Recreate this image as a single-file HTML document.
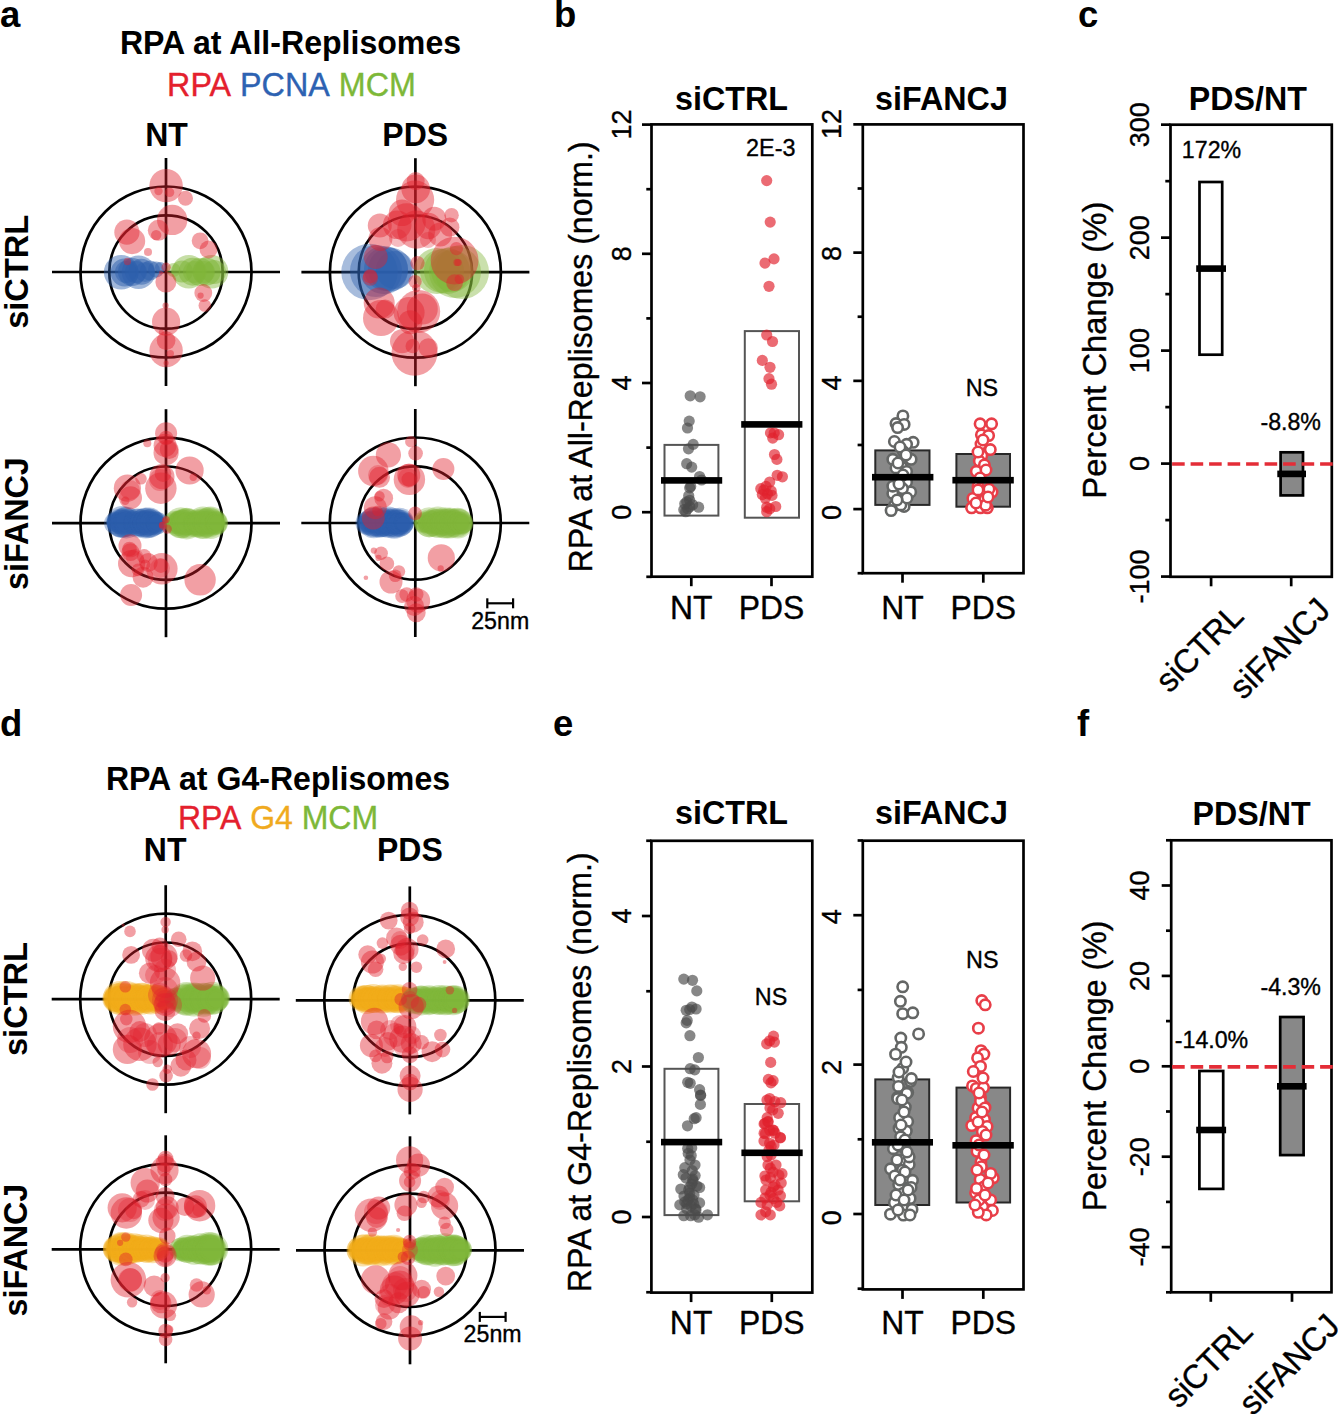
<!DOCTYPE html>
<html><head><meta charset="utf-8"><style>
html,body{margin:0;padding:0;background:#fff;}
svg{display:block;font-family:"Liberation Sans",sans-serif;}
</style></head><body>
<svg width="1338" height="1414" viewBox="0 0 1338 1414">
<rect width="1338" height="1414" fill="#fff"/>
<text transform="translate(0 27) scale(1 1.035)" font-size="36.5" font-weight="bold" text-anchor="start" fill="#000">a</text>
<text transform="translate(554 26.9) scale(1 1.035)" font-size="36.5" font-weight="bold" text-anchor="start" fill="#000">b</text>
<text transform="translate(1078 26.7) scale(1 1.035)" font-size="36.5" font-weight="bold" text-anchor="start" fill="#000">c</text>
<text transform="translate(0 735.5) scale(1 1.035)" font-size="36.5" font-weight="bold" text-anchor="start" fill="#000">d</text>
<text transform="translate(553 735.5) scale(1 1.035)" font-size="36.5" font-weight="bold" text-anchor="start" fill="#000">e</text>
<text transform="translate(1077 735.5) scale(1 1.035)" font-size="36.5" font-weight="bold" text-anchor="start" fill="#000">f</text>
<text transform="translate(290.5 53.8) scale(1 1.035)" font-size="32.1" font-weight="bold" text-anchor="middle" fill="#000">RPA at All-Replisomes</text>
<text transform="translate(291.5 95.6) scale(1 1.035)" font-size="32.3" text-anchor="middle" stroke-width="0.35"><tspan fill="rgb(228,32,45)" stroke="rgb(228,32,45)">RPA</tspan> <tspan fill="rgb(45,98,178)" stroke="rgb(45,98,178)">PCNA</tspan> <tspan fill="rgb(125,184,56)" stroke="rgb(125,184,56)">MCM</tspan></text>
<text transform="translate(166.5 146.4) scale(1 1.035)" font-size="32" font-weight="bold" text-anchor="middle" fill="#000">NT</text>
<text transform="translate(415.2 146.4) scale(1 1.035)" font-size="32" font-weight="bold" text-anchor="middle" fill="#000">PDS</text>
<text transform="translate(27.7 271.8) rotate(-90) scale(1 1.035)" font-size="32.6" font-weight="bold" text-anchor="middle" fill="#000">siCTRL</text>
<text transform="translate(27.7 523.6) rotate(-90) scale(1 1.035)" font-size="32.3" font-weight="bold" text-anchor="middle" fill="#000">siFANCJ</text>
<text transform="translate(278 789.7) scale(1 1.035)" font-size="32.1" font-weight="bold" text-anchor="middle" fill="#000">RPA at G4-Replisomes</text>
<text transform="translate(278 829.4) scale(1 1.035)" font-size="32.0" text-anchor="middle" stroke-width="0.35"><tspan fill="rgb(228,32,45)" stroke="rgb(228,32,45)">RPA</tspan> <tspan fill="rgb(240,170,30)" stroke="rgb(240,170,30)">G4</tspan> <tspan fill="rgb(125,184,56)" stroke="rgb(125,184,56)">MCM</tspan></text>
<text transform="translate(165.1 860.7) scale(1 1.035)" font-size="32" font-weight="bold" text-anchor="middle" fill="#000">NT</text>
<text transform="translate(409.9 860.7) scale(1 1.035)" font-size="32" font-weight="bold" text-anchor="middle" fill="#000">PDS</text>
<text transform="translate(27.0 999.0) rotate(-90) scale(1 1.035)" font-size="32.6" font-weight="bold" text-anchor="middle" fill="#000">siCTRL</text>
<text transform="translate(27.0 1250.1) rotate(-90) scale(1 1.035)" font-size="32.3" font-weight="bold" text-anchor="middle" fill="#000">siFANCJ</text>
<line x1="166" y1="158" x2="166" y2="386" stroke="#000" stroke-width="2.7"/>
<line x1="52" y1="272" x2="280" y2="272" stroke="#000" stroke-width="2.7"/>
<circle cx="166" cy="272" r="85.5" fill="none" stroke="#000" stroke-width="2.7"/>
<circle cx="166" cy="272" r="56.7" fill="none" stroke="#000" stroke-width="2.7"/>
<line x1="415.4" y1="158.2" x2="415.4" y2="386.2" stroke="#000" stroke-width="2.7"/>
<line x1="301.4" y1="272.2" x2="529.4" y2="272.2" stroke="#000" stroke-width="2.7"/>
<circle cx="415.4" cy="272.2" r="85.5" fill="none" stroke="#000" stroke-width="2.7"/>
<circle cx="415.4" cy="272.2" r="56.7" fill="none" stroke="#000" stroke-width="2.7"/>
<line x1="166" y1="409.20000000000005" x2="166" y2="637.2" stroke="#000" stroke-width="2.7"/>
<line x1="52" y1="523.2" x2="280" y2="523.2" stroke="#000" stroke-width="2.7"/>
<circle cx="166" cy="523.2" r="85.5" fill="none" stroke="#000" stroke-width="2.7"/>
<circle cx="166" cy="523.2" r="56.7" fill="none" stroke="#000" stroke-width="2.7"/>
<line x1="415.3" y1="409" x2="415.3" y2="637" stroke="#000" stroke-width="2.7"/>
<line x1="301.3" y1="523" x2="529.3" y2="523" stroke="#000" stroke-width="2.7"/>
<circle cx="415.3" cy="523" r="85.5" fill="none" stroke="#000" stroke-width="2.7"/>
<circle cx="415.3" cy="523" r="56.7" fill="none" stroke="#000" stroke-width="2.7"/>
<line x1="165.7" y1="885.2" x2="165.7" y2="1113.2" stroke="#000" stroke-width="2.7"/>
<line x1="51.69999999999999" y1="999.2" x2="279.7" y2="999.2" stroke="#000" stroke-width="2.7"/>
<circle cx="165.7" cy="999.2" r="85.5" fill="none" stroke="#000" stroke-width="2.7"/>
<circle cx="165.7" cy="999.2" r="56.7" fill="none" stroke="#000" stroke-width="2.7"/>
<line x1="409.8" y1="886.4" x2="409.8" y2="1114.4" stroke="#000" stroke-width="2.7"/>
<line x1="295.8" y1="1000.4" x2="523.8" y2="1000.4" stroke="#000" stroke-width="2.7"/>
<circle cx="409.8" cy="1000.4" r="85.5" fill="none" stroke="#000" stroke-width="2.7"/>
<circle cx="409.8" cy="1000.4" r="56.7" fill="none" stroke="#000" stroke-width="2.7"/>
<line x1="165.7" y1="1135.3" x2="165.7" y2="1363.3" stroke="#000" stroke-width="2.7"/>
<line x1="51.69999999999999" y1="1249.3" x2="279.7" y2="1249.3" stroke="#000" stroke-width="2.7"/>
<circle cx="165.7" cy="1249.3" r="85.5" fill="none" stroke="#000" stroke-width="2.7"/>
<circle cx="165.7" cy="1249.3" r="56.7" fill="none" stroke="#000" stroke-width="2.7"/>
<line x1="410" y1="1136.3" x2="410" y2="1364.3" stroke="#000" stroke-width="2.7"/>
<line x1="296" y1="1250.3" x2="524" y2="1250.3" stroke="#000" stroke-width="2.7"/>
<circle cx="410" cy="1250.3" r="85.5" fill="none" stroke="#000" stroke-width="2.7"/>
<circle cx="410" cy="1250.3" r="56.7" fill="none" stroke="#000" stroke-width="2.7"/>
<circle cx="121.2" cy="272.2" r="17.3" fill="rgb(45, 95, 172)" fill-opacity="0.45"/>
<circle cx="138.5" cy="272.2" r="16.8" fill="rgb(45, 95, 172)" fill-opacity="0.45"/>
<circle cx="124.7" cy="272.5" r="14.0" fill="rgb(45, 95, 172)" fill-opacity="0.5"/>
<circle cx="132.0" cy="272.0" r="14.0" fill="rgb(45, 95, 172)" fill-opacity="0.5"/>
<circle cx="141.4" cy="271.7" r="13.0" fill="rgb(45, 95, 172)" fill-opacity="0.5"/>
<circle cx="150.0" cy="270.5" r="10.0" fill="rgb(45, 95, 172)" fill-opacity="0.5"/>
<circle cx="156.0" cy="269.5" r="8.0" fill="rgb(45, 95, 172)" fill-opacity="0.5"/>
<circle cx="160.5" cy="267.5" r="5.5" fill="rgb(45, 95, 172)" fill-opacity="0.5"/>
<circle cx="126.0" cy="272.0" r="11.0" fill="rgb(45, 95, 172)" fill-opacity="0.45"/>
<circle cx="136.0" cy="272.0" r="11.0" fill="rgb(45, 95, 172)" fill-opacity="0.45"/>
<circle cx="145.0" cy="272.0" r="10.0" fill="rgb(45, 95, 172)" fill-opacity="0.45"/>
<circle cx="173.5" cy="270.0" r="7.0" fill="rgb(128, 182, 58)" fill-opacity="0.45"/>
<circle cx="188.8" cy="271.7" r="16.8" fill="rgb(128, 182, 58)" fill-opacity="0.45"/>
<circle cx="211.5" cy="271.7" r="16.8" fill="rgb(128, 182, 58)" fill-opacity="0.45"/>
<circle cx="182.0" cy="271.5" r="11.0" fill="rgb(128, 182, 58)" fill-opacity="0.5"/>
<circle cx="192.7" cy="271.7" r="14.0" fill="rgb(128, 182, 58)" fill-opacity="0.5"/>
<circle cx="200.0" cy="272.0" r="14.0" fill="rgb(128, 182, 58)" fill-opacity="0.5"/>
<circle cx="206.5" cy="271.7" r="14.0" fill="rgb(128, 182, 58)" fill-opacity="0.5"/>
<circle cx="214.0" cy="272.0" r="12.0" fill="rgb(128, 182, 58)" fill-opacity="0.5"/>
<circle cx="194.0" cy="272.0" r="11.0" fill="rgb(128, 182, 58)" fill-opacity="0.45"/>
<circle cx="204.0" cy="272.0" r="11.0" fill="rgb(128, 182, 58)" fill-opacity="0.45"/>
<circle cx="369.5" cy="272.0" r="28.2" fill="rgb(45, 95, 172)" fill-opacity="0.42"/>
<circle cx="376.0" cy="271.0" r="26.0" fill="rgb(45, 95, 172)" fill-opacity="0.42"/>
<circle cx="384.0" cy="270.0" r="24.0" fill="rgb(45, 95, 172)" fill-opacity="0.45"/>
<circle cx="390.0" cy="269.5" r="22.0" fill="rgb(45, 95, 172)" fill-opacity="0.45"/>
<circle cx="386.0" cy="269.0" r="22.0" fill="rgb(45, 95, 172)" fill-opacity="0.45"/>
<circle cx="395.0" cy="270.0" r="19.0" fill="rgb(45, 95, 172)" fill-opacity="0.45"/>
<circle cx="462.0" cy="272.0" r="27.0" fill="rgb(128, 182, 58)" fill-opacity="0.42"/>
<circle cx="455.0" cy="272.0" r="26.0" fill="rgb(128, 182, 58)" fill-opacity="0.42"/>
<circle cx="437.0" cy="271.0" r="23.0" fill="rgb(128, 182, 58)" fill-opacity="0.45"/>
<circle cx="447.0" cy="271.0" r="23.0" fill="rgb(128, 182, 58)" fill-opacity="0.45"/>
<circle cx="442.0" cy="271.0" r="22.0" fill="rgb(128, 182, 58)" fill-opacity="0.45"/>
<circle cx="452.0" cy="271.0" r="21.0" fill="rgb(128, 182, 58)" fill-opacity="0.45"/>
<circle cx="115.1" cy="523.3" r="11.0" fill="rgb(45, 95, 172)" fill-opacity="0.36"/>
<circle cx="116.6" cy="522.3" r="10.2" fill="rgb(45, 95, 172)" fill-opacity="0.36"/>
<circle cx="116.0" cy="522.6" r="9.5" fill="rgb(45, 95, 172)" fill-opacity="0.36"/>
<circle cx="116.4" cy="523.2" r="8.7" fill="rgb(45, 95, 172)" fill-opacity="0.36"/>
<circle cx="115.0" cy="521.9" r="7.9" fill="rgb(45, 95, 172)" fill-opacity="0.36"/>
<circle cx="116.8" cy="522.6" r="7.1" fill="rgb(45, 95, 172)" fill-opacity="0.36"/>
<circle cx="122.1" cy="521.9" r="15.8" fill="rgb(45, 95, 172)" fill-opacity="0.36"/>
<circle cx="121.4" cy="523.1" r="14.7" fill="rgb(45, 95, 172)" fill-opacity="0.36"/>
<circle cx="120.8" cy="523.4" r="13.6" fill="rgb(45, 95, 172)" fill-opacity="0.36"/>
<circle cx="122.5" cy="521.9" r="12.5" fill="rgb(45, 95, 172)" fill-opacity="0.36"/>
<circle cx="120.4" cy="522.8" r="11.4" fill="rgb(45, 95, 172)" fill-opacity="0.36"/>
<circle cx="122.6" cy="522.5" r="10.3" fill="rgb(45, 95, 172)" fill-opacity="0.36"/>
<circle cx="126.3" cy="522.6" r="15.8" fill="rgb(45, 95, 172)" fill-opacity="0.36"/>
<circle cx="125.9" cy="522.3" r="14.7" fill="rgb(45, 95, 172)" fill-opacity="0.36"/>
<circle cx="126.9" cy="522.7" r="13.6" fill="rgb(45, 95, 172)" fill-opacity="0.36"/>
<circle cx="126.4" cy="522.3" r="12.5" fill="rgb(45, 95, 172)" fill-opacity="0.36"/>
<circle cx="126.3" cy="522.6" r="11.4" fill="rgb(45, 95, 172)" fill-opacity="0.36"/>
<circle cx="126.5" cy="521.9" r="10.3" fill="rgb(45, 95, 172)" fill-opacity="0.36"/>
<circle cx="137.8" cy="523.1" r="14.5" fill="rgb(45, 95, 172)" fill-opacity="0.36"/>
<circle cx="137.3" cy="522.5" r="13.5" fill="rgb(45, 95, 172)" fill-opacity="0.36"/>
<circle cx="138.2" cy="523.6" r="12.5" fill="rgb(45, 95, 172)" fill-opacity="0.36"/>
<circle cx="136.1" cy="522.7" r="11.5" fill="rgb(45, 95, 172)" fill-opacity="0.36"/>
<circle cx="137.5" cy="523.3" r="10.4" fill="rgb(45, 95, 172)" fill-opacity="0.36"/>
<circle cx="138.0" cy="522.9" r="9.4" fill="rgb(45, 95, 172)" fill-opacity="0.36"/>
<circle cx="145.8" cy="523.0" r="15.5" fill="rgb(45, 95, 172)" fill-opacity="0.36"/>
<circle cx="144.5" cy="522.8" r="14.4" fill="rgb(45, 95, 172)" fill-opacity="0.36"/>
<circle cx="145.9" cy="523.3" r="13.3" fill="rgb(45, 95, 172)" fill-opacity="0.36"/>
<circle cx="145.0" cy="522.8" r="12.2" fill="rgb(45, 95, 172)" fill-opacity="0.36"/>
<circle cx="143.9" cy="522.3" r="11.2" fill="rgb(45, 95, 172)" fill-opacity="0.36"/>
<circle cx="145.7" cy="522.6" r="10.1" fill="rgb(45, 95, 172)" fill-opacity="0.36"/>
<circle cx="149.2" cy="522.8" r="15.2" fill="rgb(45, 95, 172)" fill-opacity="0.36"/>
<circle cx="150.5" cy="523.0" r="14.1" fill="rgb(45, 95, 172)" fill-opacity="0.36"/>
<circle cx="149.7" cy="522.6" r="13.1" fill="rgb(45, 95, 172)" fill-opacity="0.36"/>
<circle cx="150.0" cy="523.1" r="12.0" fill="rgb(45, 95, 172)" fill-opacity="0.36"/>
<circle cx="150.1" cy="522.5" r="10.9" fill="rgb(45, 95, 172)" fill-opacity="0.36"/>
<circle cx="150.0" cy="521.9" r="9.9" fill="rgb(45, 95, 172)" fill-opacity="0.36"/>
<circle cx="154.9" cy="523.3" r="12.0" fill="rgb(45, 95, 172)" fill-opacity="0.36"/>
<circle cx="157.2" cy="523.1" r="11.2" fill="rgb(45, 95, 172)" fill-opacity="0.36"/>
<circle cx="155.7" cy="522.5" r="10.3" fill="rgb(45, 95, 172)" fill-opacity="0.36"/>
<circle cx="156.0" cy="523.8" r="9.5" fill="rgb(45, 95, 172)" fill-opacity="0.36"/>
<circle cx="156.6" cy="523.1" r="8.6" fill="rgb(45, 95, 172)" fill-opacity="0.36"/>
<circle cx="156.9" cy="522.6" r="7.8" fill="rgb(45, 95, 172)" fill-opacity="0.36"/>
<circle cx="177.1" cy="523.7" r="12.5" fill="rgb(128, 182, 58)" fill-opacity="0.36"/>
<circle cx="174.9" cy="522.3" r="11.6" fill="rgb(128, 182, 58)" fill-opacity="0.36"/>
<circle cx="176.8" cy="523.4" r="10.8" fill="rgb(128, 182, 58)" fill-opacity="0.36"/>
<circle cx="176.4" cy="522.7" r="9.9" fill="rgb(128, 182, 58)" fill-opacity="0.36"/>
<circle cx="176.3" cy="523.2" r="9.0" fill="rgb(128, 182, 58)" fill-opacity="0.36"/>
<circle cx="176.2" cy="522.5" r="8.1" fill="rgb(128, 182, 58)" fill-opacity="0.36"/>
<circle cx="180.8" cy="522.8" r="15.5" fill="rgb(128, 182, 58)" fill-opacity="0.36"/>
<circle cx="181.5" cy="523.8" r="14.4" fill="rgb(128, 182, 58)" fill-opacity="0.36"/>
<circle cx="182.1" cy="523.1" r="13.3" fill="rgb(128, 182, 58)" fill-opacity="0.36"/>
<circle cx="180.9" cy="522.6" r="12.2" fill="rgb(128, 182, 58)" fill-opacity="0.36"/>
<circle cx="179.9" cy="522.2" r="11.2" fill="rgb(128, 182, 58)" fill-opacity="0.36"/>
<circle cx="180.9" cy="522.7" r="10.1" fill="rgb(128, 182, 58)" fill-opacity="0.36"/>
<circle cx="186.7" cy="523.6" r="15.8" fill="rgb(128, 182, 58)" fill-opacity="0.36"/>
<circle cx="187.1" cy="523.1" r="14.7" fill="rgb(128, 182, 58)" fill-opacity="0.36"/>
<circle cx="186.4" cy="522.2" r="13.6" fill="rgb(128, 182, 58)" fill-opacity="0.36"/>
<circle cx="186.6" cy="522.4" r="12.5" fill="rgb(128, 182, 58)" fill-opacity="0.36"/>
<circle cx="187.0" cy="523.8" r="11.4" fill="rgb(128, 182, 58)" fill-opacity="0.36"/>
<circle cx="187.4" cy="522.5" r="10.3" fill="rgb(128, 182, 58)" fill-opacity="0.36"/>
<circle cx="196.9" cy="523.5" r="14.0" fill="rgb(128, 182, 58)" fill-opacity="0.36"/>
<circle cx="196.6" cy="523.7" r="13.0" fill="rgb(128, 182, 58)" fill-opacity="0.36"/>
<circle cx="196.6" cy="523.5" r="12.0" fill="rgb(128, 182, 58)" fill-opacity="0.36"/>
<circle cx="195.6" cy="523.8" r="11.1" fill="rgb(128, 182, 58)" fill-opacity="0.36"/>
<circle cx="197.1" cy="522.5" r="10.1" fill="rgb(128, 182, 58)" fill-opacity="0.36"/>
<circle cx="196.6" cy="523.3" r="9.1" fill="rgb(128, 182, 58)" fill-opacity="0.36"/>
<circle cx="202.9" cy="522.7" r="16.2" fill="rgb(128, 182, 58)" fill-opacity="0.36"/>
<circle cx="203.0" cy="523.4" r="15.1" fill="rgb(128, 182, 58)" fill-opacity="0.36"/>
<circle cx="203.0" cy="523.2" r="13.9" fill="rgb(128, 182, 58)" fill-opacity="0.36"/>
<circle cx="202.6" cy="523.3" r="12.8" fill="rgb(128, 182, 58)" fill-opacity="0.36"/>
<circle cx="204.0" cy="522.6" r="11.7" fill="rgb(128, 182, 58)" fill-opacity="0.36"/>
<circle cx="203.2" cy="523.4" r="10.5" fill="rgb(128, 182, 58)" fill-opacity="0.36"/>
<circle cx="210.5" cy="522.7" r="16.2" fill="rgb(128, 182, 58)" fill-opacity="0.36"/>
<circle cx="209.3" cy="522.4" r="15.1" fill="rgb(128, 182, 58)" fill-opacity="0.36"/>
<circle cx="210.5" cy="522.2" r="13.9" fill="rgb(128, 182, 58)" fill-opacity="0.36"/>
<circle cx="211.0" cy="522.3" r="12.8" fill="rgb(128, 182, 58)" fill-opacity="0.36"/>
<circle cx="211.0" cy="522.4" r="11.7" fill="rgb(128, 182, 58)" fill-opacity="0.36"/>
<circle cx="211.1" cy="523.0" r="10.5" fill="rgb(128, 182, 58)" fill-opacity="0.36"/>
<circle cx="216.0" cy="523.0" r="12.0" fill="rgb(128, 182, 58)" fill-opacity="0.36"/>
<circle cx="216.4" cy="523.1" r="11.2" fill="rgb(128, 182, 58)" fill-opacity="0.36"/>
<circle cx="215.5" cy="522.5" r="10.3" fill="rgb(128, 182, 58)" fill-opacity="0.36"/>
<circle cx="216.0" cy="523.7" r="9.5" fill="rgb(128, 182, 58)" fill-opacity="0.36"/>
<circle cx="216.3" cy="522.3" r="8.6" fill="rgb(128, 182, 58)" fill-opacity="0.36"/>
<circle cx="216.8" cy="523.4" r="7.8" fill="rgb(128, 182, 58)" fill-opacity="0.36"/>
<circle cx="367.4" cy="522.9" r="12.0" fill="rgb(45, 95, 172)" fill-opacity="0.34"/>
<circle cx="367.7" cy="523.0" r="11.2" fill="rgb(45, 95, 172)" fill-opacity="0.34"/>
<circle cx="368.3" cy="522.1" r="10.3" fill="rgb(45, 95, 172)" fill-opacity="0.34"/>
<circle cx="366.8" cy="523.3" r="9.5" fill="rgb(45, 95, 172)" fill-opacity="0.34"/>
<circle cx="367.4" cy="522.4" r="8.6" fill="rgb(45, 95, 172)" fill-opacity="0.34"/>
<circle cx="369.2" cy="522.8" r="7.8" fill="rgb(45, 95, 172)" fill-opacity="0.34"/>
<circle cx="373.8" cy="522.8" r="15.5" fill="rgb(45, 95, 172)" fill-opacity="0.34"/>
<circle cx="373.3" cy="522.2" r="14.4" fill="rgb(45, 95, 172)" fill-opacity="0.34"/>
<circle cx="373.3" cy="523.4" r="13.3" fill="rgb(45, 95, 172)" fill-opacity="0.34"/>
<circle cx="373.1" cy="523.2" r="12.2" fill="rgb(45, 95, 172)" fill-opacity="0.34"/>
<circle cx="373.4" cy="522.1" r="11.2" fill="rgb(45, 95, 172)" fill-opacity="0.34"/>
<circle cx="373.6" cy="522.9" r="10.1" fill="rgb(45, 95, 172)" fill-opacity="0.34"/>
<circle cx="379.5" cy="522.0" r="15.6" fill="rgb(45, 95, 172)" fill-opacity="0.34"/>
<circle cx="380.9" cy="522.8" r="14.5" fill="rgb(45, 95, 172)" fill-opacity="0.34"/>
<circle cx="380.5" cy="523.4" r="13.4" fill="rgb(45, 95, 172)" fill-opacity="0.34"/>
<circle cx="380.5" cy="523.5" r="12.3" fill="rgb(45, 95, 172)" fill-opacity="0.34"/>
<circle cx="379.7" cy="523.3" r="11.2" fill="rgb(45, 95, 172)" fill-opacity="0.34"/>
<circle cx="379.9" cy="523.5" r="10.1" fill="rgb(45, 95, 172)" fill-opacity="0.34"/>
<circle cx="387.9" cy="522.2" r="15.6" fill="rgb(45, 95, 172)" fill-opacity="0.34"/>
<circle cx="386.1" cy="522.3" r="14.5" fill="rgb(45, 95, 172)" fill-opacity="0.34"/>
<circle cx="388.1" cy="522.7" r="13.4" fill="rgb(45, 95, 172)" fill-opacity="0.34"/>
<circle cx="387.3" cy="522.5" r="12.3" fill="rgb(45, 95, 172)" fill-opacity="0.34"/>
<circle cx="387.0" cy="522.6" r="11.2" fill="rgb(45, 95, 172)" fill-opacity="0.34"/>
<circle cx="386.6" cy="522.9" r="10.1" fill="rgb(45, 95, 172)" fill-opacity="0.34"/>
<circle cx="394.2" cy="523.4" r="15.4" fill="rgb(45, 95, 172)" fill-opacity="0.34"/>
<circle cx="394.4" cy="523.5" r="14.3" fill="rgb(45, 95, 172)" fill-opacity="0.34"/>
<circle cx="394.9" cy="523.6" r="13.2" fill="rgb(45, 95, 172)" fill-opacity="0.34"/>
<circle cx="394.4" cy="522.3" r="12.2" fill="rgb(45, 95, 172)" fill-opacity="0.34"/>
<circle cx="394.9" cy="523.5" r="11.1" fill="rgb(45, 95, 172)" fill-opacity="0.34"/>
<circle cx="395.0" cy="522.9" r="10.0" fill="rgb(45, 95, 172)" fill-opacity="0.34"/>
<circle cx="399.5" cy="522.3" r="14.5" fill="rgb(45, 95, 172)" fill-opacity="0.34"/>
<circle cx="399.8" cy="522.9" r="13.5" fill="rgb(45, 95, 172)" fill-opacity="0.34"/>
<circle cx="398.5" cy="522.1" r="12.5" fill="rgb(45, 95, 172)" fill-opacity="0.34"/>
<circle cx="399.8" cy="523.6" r="11.5" fill="rgb(45, 95, 172)" fill-opacity="0.34"/>
<circle cx="398.0" cy="523.3" r="10.4" fill="rgb(45, 95, 172)" fill-opacity="0.34"/>
<circle cx="398.8" cy="522.2" r="9.4" fill="rgb(45, 95, 172)" fill-opacity="0.34"/>
<circle cx="402.5" cy="523.4" r="11.0" fill="rgb(45, 95, 172)" fill-opacity="0.34"/>
<circle cx="403.9" cy="522.3" r="10.2" fill="rgb(45, 95, 172)" fill-opacity="0.34"/>
<circle cx="403.3" cy="522.3" r="9.5" fill="rgb(45, 95, 172)" fill-opacity="0.34"/>
<circle cx="403.5" cy="522.7" r="8.7" fill="rgb(45, 95, 172)" fill-opacity="0.34"/>
<circle cx="403.9" cy="523.8" r="7.9" fill="rgb(45, 95, 172)" fill-opacity="0.34"/>
<circle cx="403.0" cy="523.8" r="7.1" fill="rgb(45, 95, 172)" fill-opacity="0.34"/>
<circle cx="424.4" cy="522.4" r="11.0" fill="rgb(128, 182, 58)" fill-opacity="0.34"/>
<circle cx="424.8" cy="522.4" r="10.2" fill="rgb(128, 182, 58)" fill-opacity="0.34"/>
<circle cx="424.0" cy="522.8" r="9.5" fill="rgb(128, 182, 58)" fill-opacity="0.34"/>
<circle cx="426.0" cy="523.5" r="8.7" fill="rgb(128, 182, 58)" fill-opacity="0.34"/>
<circle cx="425.6" cy="522.6" r="7.9" fill="rgb(128, 182, 58)" fill-opacity="0.34"/>
<circle cx="425.1" cy="522.6" r="7.1" fill="rgb(128, 182, 58)" fill-opacity="0.34"/>
<circle cx="429.2" cy="522.2" r="15.0" fill="rgb(128, 182, 58)" fill-opacity="0.34"/>
<circle cx="429.3" cy="523.5" r="13.9" fill="rgb(128, 182, 58)" fill-opacity="0.34"/>
<circle cx="430.8" cy="523.3" r="12.9" fill="rgb(128, 182, 58)" fill-opacity="0.34"/>
<circle cx="430.7" cy="522.3" r="11.9" fill="rgb(128, 182, 58)" fill-opacity="0.34"/>
<circle cx="429.5" cy="523.0" r="10.8" fill="rgb(128, 182, 58)" fill-opacity="0.34"/>
<circle cx="430.6" cy="523.4" r="9.7" fill="rgb(128, 182, 58)" fill-opacity="0.34"/>
<circle cx="437.9" cy="522.1" r="15.6" fill="rgb(128, 182, 58)" fill-opacity="0.34"/>
<circle cx="437.3" cy="523.1" r="14.5" fill="rgb(128, 182, 58)" fill-opacity="0.34"/>
<circle cx="437.0" cy="522.3" r="13.4" fill="rgb(128, 182, 58)" fill-opacity="0.34"/>
<circle cx="436.9" cy="522.1" r="12.3" fill="rgb(128, 182, 58)" fill-opacity="0.34"/>
<circle cx="438.0" cy="523.4" r="11.2" fill="rgb(128, 182, 58)" fill-opacity="0.34"/>
<circle cx="437.1" cy="522.5" r="10.1" fill="rgb(128, 182, 58)" fill-opacity="0.34"/>
<circle cx="445.0" cy="522.9" r="15.6" fill="rgb(128, 182, 58)" fill-opacity="0.34"/>
<circle cx="444.9" cy="523.4" r="14.5" fill="rgb(128, 182, 58)" fill-opacity="0.34"/>
<circle cx="444.0" cy="522.7" r="13.4" fill="rgb(128, 182, 58)" fill-opacity="0.34"/>
<circle cx="444.2" cy="522.7" r="12.3" fill="rgb(128, 182, 58)" fill-opacity="0.34"/>
<circle cx="443.2" cy="522.5" r="11.2" fill="rgb(128, 182, 58)" fill-opacity="0.34"/>
<circle cx="444.8" cy="522.1" r="10.1" fill="rgb(128, 182, 58)" fill-opacity="0.34"/>
<circle cx="449.9" cy="523.0" r="15.6" fill="rgb(128, 182, 58)" fill-opacity="0.34"/>
<circle cx="450.5" cy="522.9" r="14.5" fill="rgb(128, 182, 58)" fill-opacity="0.34"/>
<circle cx="450.9" cy="522.5" r="13.4" fill="rgb(128, 182, 58)" fill-opacity="0.34"/>
<circle cx="452.2" cy="522.3" r="12.3" fill="rgb(128, 182, 58)" fill-opacity="0.34"/>
<circle cx="450.8" cy="522.3" r="11.2" fill="rgb(128, 182, 58)" fill-opacity="0.34"/>
<circle cx="451.3" cy="522.4" r="10.1" fill="rgb(128, 182, 58)" fill-opacity="0.34"/>
<circle cx="457.7" cy="523.2" r="15.4" fill="rgb(128, 182, 58)" fill-opacity="0.34"/>
<circle cx="457.6" cy="522.9" r="14.3" fill="rgb(128, 182, 58)" fill-opacity="0.34"/>
<circle cx="459.0" cy="522.2" r="13.2" fill="rgb(128, 182, 58)" fill-opacity="0.34"/>
<circle cx="456.9" cy="522.4" r="12.2" fill="rgb(128, 182, 58)" fill-opacity="0.34"/>
<circle cx="458.6" cy="523.0" r="11.1" fill="rgb(128, 182, 58)" fill-opacity="0.34"/>
<circle cx="457.4" cy="522.5" r="10.0" fill="rgb(128, 182, 58)" fill-opacity="0.34"/>
<circle cx="461.2" cy="522.9" r="11.5" fill="rgb(128, 182, 58)" fill-opacity="0.34"/>
<circle cx="460.9" cy="523.3" r="10.7" fill="rgb(128, 182, 58)" fill-opacity="0.34"/>
<circle cx="463.0" cy="523.7" r="9.9" fill="rgb(128, 182, 58)" fill-opacity="0.34"/>
<circle cx="462.6" cy="523.7" r="9.1" fill="rgb(128, 182, 58)" fill-opacity="0.34"/>
<circle cx="460.8" cy="522.7" r="8.3" fill="rgb(128, 182, 58)" fill-opacity="0.34"/>
<circle cx="463.1" cy="523.4" r="7.5" fill="rgb(128, 182, 58)" fill-opacity="0.34"/>
<circle cx="115.3" cy="998.9" r="13.0" fill="rgb(240, 172, 25)" fill-opacity="0.36"/>
<circle cx="115.7" cy="999.2" r="12.1" fill="rgb(240, 172, 25)" fill-opacity="0.36"/>
<circle cx="115.6" cy="999.2" r="11.2" fill="rgb(240, 172, 25)" fill-opacity="0.36"/>
<circle cx="113.9" cy="998.4" r="10.3" fill="rgb(240, 172, 25)" fill-opacity="0.36"/>
<circle cx="116.1" cy="998.7" r="9.4" fill="rgb(240, 172, 25)" fill-opacity="0.36"/>
<circle cx="116.0" cy="997.9" r="8.4" fill="rgb(240, 172, 25)" fill-opacity="0.36"/>
<circle cx="119.9" cy="998.1" r="17.0" fill="rgb(240, 172, 25)" fill-opacity="0.36"/>
<circle cx="120.1" cy="998.6" r="15.8" fill="rgb(240, 172, 25)" fill-opacity="0.36"/>
<circle cx="118.8" cy="998.0" r="14.6" fill="rgb(240, 172, 25)" fill-opacity="0.36"/>
<circle cx="119.5" cy="999.2" r="13.4" fill="rgb(240, 172, 25)" fill-opacity="0.36"/>
<circle cx="120.6" cy="998.0" r="12.2" fill="rgb(240, 172, 25)" fill-opacity="0.36"/>
<circle cx="120.7" cy="997.9" r="11.0" fill="rgb(240, 172, 25)" fill-opacity="0.36"/>
<circle cx="126.3" cy="997.9" r="17.0" fill="rgb(240, 172, 25)" fill-opacity="0.36"/>
<circle cx="124.8" cy="999.1" r="15.8" fill="rgb(240, 172, 25)" fill-opacity="0.36"/>
<circle cx="125.3" cy="998.0" r="14.6" fill="rgb(240, 172, 25)" fill-opacity="0.36"/>
<circle cx="127.2" cy="999.1" r="13.4" fill="rgb(240, 172, 25)" fill-opacity="0.36"/>
<circle cx="125.5" cy="999.2" r="12.2" fill="rgb(240, 172, 25)" fill-opacity="0.36"/>
<circle cx="126.1" cy="998.8" r="11.0" fill="rgb(240, 172, 25)" fill-opacity="0.36"/>
<circle cx="134.3" cy="999.2" r="16.5" fill="rgb(240, 172, 25)" fill-opacity="0.36"/>
<circle cx="135.5" cy="999.2" r="15.3" fill="rgb(240, 172, 25)" fill-opacity="0.36"/>
<circle cx="135.9" cy="998.2" r="14.2" fill="rgb(240, 172, 25)" fill-opacity="0.36"/>
<circle cx="134.7" cy="998.0" r="13.0" fill="rgb(240, 172, 25)" fill-opacity="0.36"/>
<circle cx="134.1" cy="997.8" r="11.9" fill="rgb(240, 172, 25)" fill-opacity="0.36"/>
<circle cx="134.5" cy="998.7" r="10.7" fill="rgb(240, 172, 25)" fill-opacity="0.36"/>
<circle cx="141.8" cy="998.8" r="16.0" fill="rgb(240, 172, 25)" fill-opacity="0.36"/>
<circle cx="142.6" cy="998.2" r="14.9" fill="rgb(240, 172, 25)" fill-opacity="0.36"/>
<circle cx="143.8" cy="998.5" r="13.8" fill="rgb(240, 172, 25)" fill-opacity="0.36"/>
<circle cx="142.6" cy="998.5" r="12.6" fill="rgb(240, 172, 25)" fill-opacity="0.36"/>
<circle cx="143.5" cy="997.8" r="11.5" fill="rgb(240, 172, 25)" fill-opacity="0.36"/>
<circle cx="144.1" cy="997.7" r="10.4" fill="rgb(240, 172, 25)" fill-opacity="0.36"/>
<circle cx="150.6" cy="999.1" r="15.5" fill="rgb(240, 172, 25)" fill-opacity="0.36"/>
<circle cx="148.8" cy="999.0" r="14.4" fill="rgb(240, 172, 25)" fill-opacity="0.36"/>
<circle cx="149.7" cy="998.6" r="13.3" fill="rgb(240, 172, 25)" fill-opacity="0.36"/>
<circle cx="148.8" cy="997.8" r="12.2" fill="rgb(240, 172, 25)" fill-opacity="0.36"/>
<circle cx="149.2" cy="999.2" r="11.2" fill="rgb(240, 172, 25)" fill-opacity="0.36"/>
<circle cx="149.3" cy="998.9" r="10.1" fill="rgb(240, 172, 25)" fill-opacity="0.36"/>
<circle cx="158.0" cy="999.2" r="14.5" fill="rgb(240, 172, 25)" fill-opacity="0.36"/>
<circle cx="156.6" cy="998.3" r="13.5" fill="rgb(240, 172, 25)" fill-opacity="0.36"/>
<circle cx="157.1" cy="998.9" r="12.5" fill="rgb(240, 172, 25)" fill-opacity="0.36"/>
<circle cx="156.1" cy="998.9" r="11.5" fill="rgb(240, 172, 25)" fill-opacity="0.36"/>
<circle cx="157.7" cy="999.1" r="10.4" fill="rgb(240, 172, 25)" fill-opacity="0.36"/>
<circle cx="155.9" cy="999.2" r="9.4" fill="rgb(240, 172, 25)" fill-opacity="0.36"/>
<circle cx="161.0" cy="998.2" r="12.0" fill="rgb(240, 172, 25)" fill-opacity="0.36"/>
<circle cx="162.3" cy="999.2" r="11.2" fill="rgb(240, 172, 25)" fill-opacity="0.36"/>
<circle cx="161.6" cy="999.2" r="10.3" fill="rgb(240, 172, 25)" fill-opacity="0.36"/>
<circle cx="162.1" cy="998.2" r="9.5" fill="rgb(240, 172, 25)" fill-opacity="0.36"/>
<circle cx="161.6" cy="998.0" r="8.6" fill="rgb(240, 172, 25)" fill-opacity="0.36"/>
<circle cx="161.0" cy="997.9" r="7.8" fill="rgb(240, 172, 25)" fill-opacity="0.36"/>
<circle cx="176.7" cy="999.5" r="12.0" fill="rgb(128, 182, 58)" fill-opacity="0.36"/>
<circle cx="176.0" cy="998.6" r="11.2" fill="rgb(128, 182, 58)" fill-opacity="0.36"/>
<circle cx="174.8" cy="999.3" r="10.3" fill="rgb(128, 182, 58)" fill-opacity="0.36"/>
<circle cx="175.9" cy="999.4" r="9.5" fill="rgb(128, 182, 58)" fill-opacity="0.36"/>
<circle cx="175.7" cy="999.4" r="8.6" fill="rgb(128, 182, 58)" fill-opacity="0.36"/>
<circle cx="175.5" cy="999.5" r="7.8" fill="rgb(128, 182, 58)" fill-opacity="0.36"/>
<circle cx="186.6" cy="998.9" r="17.0" fill="rgb(128, 182, 58)" fill-opacity="0.36"/>
<circle cx="186.1" cy="999.3" r="15.8" fill="rgb(128, 182, 58)" fill-opacity="0.36"/>
<circle cx="185.3" cy="999.1" r="14.6" fill="rgb(128, 182, 58)" fill-opacity="0.36"/>
<circle cx="186.7" cy="998.6" r="13.4" fill="rgb(128, 182, 58)" fill-opacity="0.36"/>
<circle cx="186.7" cy="999.3" r="12.2" fill="rgb(128, 182, 58)" fill-opacity="0.36"/>
<circle cx="186.8" cy="998.7" r="11.0" fill="rgb(128, 182, 58)" fill-opacity="0.36"/>
<circle cx="194.0" cy="999.5" r="17.0" fill="rgb(128, 182, 58)" fill-opacity="0.36"/>
<circle cx="195.7" cy="998.9" r="15.8" fill="rgb(128, 182, 58)" fill-opacity="0.36"/>
<circle cx="194.0" cy="998.5" r="14.6" fill="rgb(128, 182, 58)" fill-opacity="0.36"/>
<circle cx="195.3" cy="998.7" r="13.4" fill="rgb(128, 182, 58)" fill-opacity="0.36"/>
<circle cx="196.1" cy="999.1" r="12.2" fill="rgb(128, 182, 58)" fill-opacity="0.36"/>
<circle cx="194.3" cy="999.2" r="11.0" fill="rgb(128, 182, 58)" fill-opacity="0.36"/>
<circle cx="203.7" cy="999.7" r="17.0" fill="rgb(128, 182, 58)" fill-opacity="0.36"/>
<circle cx="205.0" cy="999.0" r="15.8" fill="rgb(128, 182, 58)" fill-opacity="0.36"/>
<circle cx="204.3" cy="999.3" r="14.6" fill="rgb(128, 182, 58)" fill-opacity="0.36"/>
<circle cx="204.7" cy="999.8" r="13.4" fill="rgb(128, 182, 58)" fill-opacity="0.36"/>
<circle cx="202.9" cy="998.8" r="12.2" fill="rgb(128, 182, 58)" fill-opacity="0.36"/>
<circle cx="204.2" cy="998.7" r="11.0" fill="rgb(128, 182, 58)" fill-opacity="0.36"/>
<circle cx="212.2" cy="998.3" r="16.5" fill="rgb(128, 182, 58)" fill-opacity="0.36"/>
<circle cx="212.9" cy="999.0" r="15.3" fill="rgb(128, 182, 58)" fill-opacity="0.36"/>
<circle cx="211.1" cy="999.3" r="14.2" fill="rgb(128, 182, 58)" fill-opacity="0.36"/>
<circle cx="211.5" cy="998.5" r="13.0" fill="rgb(128, 182, 58)" fill-opacity="0.36"/>
<circle cx="212.0" cy="998.4" r="11.9" fill="rgb(128, 182, 58)" fill-opacity="0.36"/>
<circle cx="211.3" cy="999.6" r="10.7" fill="rgb(128, 182, 58)" fill-opacity="0.36"/>
<circle cx="217.5" cy="998.2" r="12.5" fill="rgb(128, 182, 58)" fill-opacity="0.36"/>
<circle cx="217.7" cy="998.2" r="11.6" fill="rgb(128, 182, 58)" fill-opacity="0.36"/>
<circle cx="216.6" cy="999.6" r="10.8" fill="rgb(128, 182, 58)" fill-opacity="0.36"/>
<circle cx="217.3" cy="998.7" r="9.9" fill="rgb(128, 182, 58)" fill-opacity="0.36"/>
<circle cx="216.7" cy="998.8" r="9.0" fill="rgb(128, 182, 58)" fill-opacity="0.36"/>
<circle cx="216.1" cy="999.8" r="8.1" fill="rgb(128, 182, 58)" fill-opacity="0.36"/>
<circle cx="361.6" cy="998.4" r="13.0" fill="rgb(240, 172, 25)" fill-opacity="0.36"/>
<circle cx="362.4" cy="998.3" r="12.1" fill="rgb(240, 172, 25)" fill-opacity="0.36"/>
<circle cx="362.1" cy="998.8" r="11.2" fill="rgb(240, 172, 25)" fill-opacity="0.36"/>
<circle cx="360.9" cy="999.0" r="10.3" fill="rgb(240, 172, 25)" fill-opacity="0.36"/>
<circle cx="360.9" cy="998.9" r="9.4" fill="rgb(240, 172, 25)" fill-opacity="0.36"/>
<circle cx="361.0" cy="998.3" r="8.4" fill="rgb(240, 172, 25)" fill-opacity="0.36"/>
<circle cx="366.8" cy="999.5" r="14.5" fill="rgb(240, 172, 25)" fill-opacity="0.36"/>
<circle cx="366.1" cy="998.6" r="13.5" fill="rgb(240, 172, 25)" fill-opacity="0.36"/>
<circle cx="367.3" cy="999.7" r="12.5" fill="rgb(240, 172, 25)" fill-opacity="0.36"/>
<circle cx="367.2" cy="998.8" r="11.5" fill="rgb(240, 172, 25)" fill-opacity="0.36"/>
<circle cx="368.1" cy="998.3" r="10.4" fill="rgb(240, 172, 25)" fill-opacity="0.36"/>
<circle cx="367.9" cy="998.7" r="9.4" fill="rgb(240, 172, 25)" fill-opacity="0.36"/>
<circle cx="373.1" cy="998.4" r="14.5" fill="rgb(240, 172, 25)" fill-opacity="0.36"/>
<circle cx="373.5" cy="999.5" r="13.5" fill="rgb(240, 172, 25)" fill-opacity="0.36"/>
<circle cx="373.2" cy="999.1" r="12.5" fill="rgb(240, 172, 25)" fill-opacity="0.36"/>
<circle cx="374.3" cy="998.8" r="11.5" fill="rgb(240, 172, 25)" fill-opacity="0.36"/>
<circle cx="374.1" cy="998.3" r="10.4" fill="rgb(240, 172, 25)" fill-opacity="0.36"/>
<circle cx="372.9" cy="998.5" r="9.4" fill="rgb(240, 172, 25)" fill-opacity="0.36"/>
<circle cx="382.4" cy="998.9" r="14.5" fill="rgb(240, 172, 25)" fill-opacity="0.36"/>
<circle cx="381.6" cy="999.1" r="13.5" fill="rgb(240, 172, 25)" fill-opacity="0.36"/>
<circle cx="381.9" cy="998.7" r="12.5" fill="rgb(240, 172, 25)" fill-opacity="0.36"/>
<circle cx="382.7" cy="999.3" r="11.5" fill="rgb(240, 172, 25)" fill-opacity="0.36"/>
<circle cx="381.4" cy="999.1" r="10.4" fill="rgb(240, 172, 25)" fill-opacity="0.36"/>
<circle cx="382.1" cy="999.6" r="9.4" fill="rgb(240, 172, 25)" fill-opacity="0.36"/>
<circle cx="390.6" cy="998.7" r="14.5" fill="rgb(240, 172, 25)" fill-opacity="0.36"/>
<circle cx="391.2" cy="998.4" r="13.5" fill="rgb(240, 172, 25)" fill-opacity="0.36"/>
<circle cx="389.8" cy="999.4" r="12.5" fill="rgb(240, 172, 25)" fill-opacity="0.36"/>
<circle cx="389.2" cy="999.0" r="11.5" fill="rgb(240, 172, 25)" fill-opacity="0.36"/>
<circle cx="388.9" cy="999.3" r="10.4" fill="rgb(240, 172, 25)" fill-opacity="0.36"/>
<circle cx="390.6" cy="999.1" r="9.4" fill="rgb(240, 172, 25)" fill-opacity="0.36"/>
<circle cx="397.9" cy="998.7" r="14.5" fill="rgb(240, 172, 25)" fill-opacity="0.36"/>
<circle cx="397.5" cy="999.2" r="13.5" fill="rgb(240, 172, 25)" fill-opacity="0.36"/>
<circle cx="397.2" cy="998.9" r="12.5" fill="rgb(240, 172, 25)" fill-opacity="0.36"/>
<circle cx="397.8" cy="999.7" r="11.5" fill="rgb(240, 172, 25)" fill-opacity="0.36"/>
<circle cx="396.9" cy="999.3" r="10.4" fill="rgb(240, 172, 25)" fill-opacity="0.36"/>
<circle cx="395.9" cy="999.3" r="9.4" fill="rgb(240, 172, 25)" fill-opacity="0.36"/>
<circle cx="403.4" cy="999.8" r="13.0" fill="rgb(240, 172, 25)" fill-opacity="0.36"/>
<circle cx="403.8" cy="998.7" r="12.1" fill="rgb(240, 172, 25)" fill-opacity="0.36"/>
<circle cx="402.7" cy="999.3" r="11.2" fill="rgb(240, 172, 25)" fill-opacity="0.36"/>
<circle cx="401.9" cy="998.9" r="10.3" fill="rgb(240, 172, 25)" fill-opacity="0.36"/>
<circle cx="402.2" cy="998.4" r="9.4" fill="rgb(240, 172, 25)" fill-opacity="0.36"/>
<circle cx="401.9" cy="999.4" r="8.4" fill="rgb(240, 172, 25)" fill-opacity="0.36"/>
<circle cx="414.3" cy="1000.7" r="13.5" fill="rgb(128, 182, 58)" fill-opacity="0.36"/>
<circle cx="414.1" cy="1000.3" r="12.6" fill="rgb(128, 182, 58)" fill-opacity="0.36"/>
<circle cx="414.0" cy="999.6" r="11.6" fill="rgb(128, 182, 58)" fill-opacity="0.36"/>
<circle cx="416.2" cy="999.5" r="10.7" fill="rgb(128, 182, 58)" fill-opacity="0.36"/>
<circle cx="415.3" cy="999.9" r="9.7" fill="rgb(128, 182, 58)" fill-opacity="0.36"/>
<circle cx="414.9" cy="1000.0" r="8.8" fill="rgb(128, 182, 58)" fill-opacity="0.36"/>
<circle cx="421.3" cy="1000.5" r="15.0" fill="rgb(128, 182, 58)" fill-opacity="0.36"/>
<circle cx="421.0" cy="999.6" r="13.9" fill="rgb(128, 182, 58)" fill-opacity="0.36"/>
<circle cx="420.8" cy="999.6" r="12.9" fill="rgb(128, 182, 58)" fill-opacity="0.36"/>
<circle cx="421.8" cy="1000.6" r="11.9" fill="rgb(128, 182, 58)" fill-opacity="0.36"/>
<circle cx="421.7" cy="999.4" r="10.8" fill="rgb(128, 182, 58)" fill-opacity="0.36"/>
<circle cx="421.4" cy="1000.8" r="9.7" fill="rgb(128, 182, 58)" fill-opacity="0.36"/>
<circle cx="429.0" cy="1000.2" r="15.0" fill="rgb(128, 182, 58)" fill-opacity="0.36"/>
<circle cx="429.7" cy="1000.3" r="13.9" fill="rgb(128, 182, 58)" fill-opacity="0.36"/>
<circle cx="429.6" cy="1000.3" r="12.9" fill="rgb(128, 182, 58)" fill-opacity="0.36"/>
<circle cx="430.0" cy="1000.2" r="11.9" fill="rgb(128, 182, 58)" fill-opacity="0.36"/>
<circle cx="431.0" cy="1000.1" r="10.8" fill="rgb(128, 182, 58)" fill-opacity="0.36"/>
<circle cx="429.1" cy="999.3" r="9.7" fill="rgb(128, 182, 58)" fill-opacity="0.36"/>
<circle cx="439.1" cy="1000.0" r="15.0" fill="rgb(128, 182, 58)" fill-opacity="0.36"/>
<circle cx="437.3" cy="1000.7" r="13.9" fill="rgb(128, 182, 58)" fill-opacity="0.36"/>
<circle cx="438.2" cy="1000.4" r="12.9" fill="rgb(128, 182, 58)" fill-opacity="0.36"/>
<circle cx="438.9" cy="999.7" r="11.9" fill="rgb(128, 182, 58)" fill-opacity="0.36"/>
<circle cx="437.7" cy="1000.6" r="10.8" fill="rgb(128, 182, 58)" fill-opacity="0.36"/>
<circle cx="437.1" cy="1000.4" r="9.7" fill="rgb(128, 182, 58)" fill-opacity="0.36"/>
<circle cx="445.0" cy="1000.3" r="15.0" fill="rgb(128, 182, 58)" fill-opacity="0.36"/>
<circle cx="446.5" cy="1000.7" r="13.9" fill="rgb(128, 182, 58)" fill-opacity="0.36"/>
<circle cx="446.8" cy="1000.0" r="12.9" fill="rgb(128, 182, 58)" fill-opacity="0.36"/>
<circle cx="445.3" cy="999.4" r="11.9" fill="rgb(128, 182, 58)" fill-opacity="0.36"/>
<circle cx="446.1" cy="1000.0" r="10.8" fill="rgb(128, 182, 58)" fill-opacity="0.36"/>
<circle cx="445.0" cy="1000.6" r="9.7" fill="rgb(128, 182, 58)" fill-opacity="0.36"/>
<circle cx="453.0" cy="1000.3" r="15.0" fill="rgb(128, 182, 58)" fill-opacity="0.36"/>
<circle cx="452.3" cy="999.6" r="13.9" fill="rgb(128, 182, 58)" fill-opacity="0.36"/>
<circle cx="451.8" cy="999.7" r="12.9" fill="rgb(128, 182, 58)" fill-opacity="0.36"/>
<circle cx="452.4" cy="999.9" r="11.9" fill="rgb(128, 182, 58)" fill-opacity="0.36"/>
<circle cx="452.7" cy="1000.5" r="10.8" fill="rgb(128, 182, 58)" fill-opacity="0.36"/>
<circle cx="453.9" cy="999.5" r="9.7" fill="rgb(128, 182, 58)" fill-opacity="0.36"/>
<circle cx="455.8" cy="999.5" r="14.0" fill="rgb(128, 182, 58)" fill-opacity="0.36"/>
<circle cx="456.4" cy="1000.8" r="13.0" fill="rgb(128, 182, 58)" fill-opacity="0.36"/>
<circle cx="455.3" cy="1000.4" r="12.0" fill="rgb(128, 182, 58)" fill-opacity="0.36"/>
<circle cx="455.5" cy="999.2" r="11.1" fill="rgb(128, 182, 58)" fill-opacity="0.36"/>
<circle cx="456.6" cy="999.7" r="10.1" fill="rgb(128, 182, 58)" fill-opacity="0.36"/>
<circle cx="455.2" cy="999.9" r="9.1" fill="rgb(128, 182, 58)" fill-opacity="0.36"/>
<circle cx="115.9" cy="1248.8" r="13.0" fill="rgb(240, 172, 25)" fill-opacity="0.36"/>
<circle cx="115.1" cy="1249.6" r="12.1" fill="rgb(240, 172, 25)" fill-opacity="0.36"/>
<circle cx="114.8" cy="1249.0" r="11.2" fill="rgb(240, 172, 25)" fill-opacity="0.36"/>
<circle cx="117.0" cy="1248.3" r="10.3" fill="rgb(240, 172, 25)" fill-opacity="0.36"/>
<circle cx="116.1" cy="1249.2" r="9.4" fill="rgb(240, 172, 25)" fill-opacity="0.36"/>
<circle cx="114.9" cy="1248.8" r="8.4" fill="rgb(240, 172, 25)" fill-opacity="0.36"/>
<circle cx="121.5" cy="1248.9" r="16.8" fill="rgb(240, 172, 25)" fill-opacity="0.36"/>
<circle cx="121.5" cy="1248.5" r="15.6" fill="rgb(240, 172, 25)" fill-opacity="0.36"/>
<circle cx="120.4" cy="1248.4" r="14.4" fill="rgb(240, 172, 25)" fill-opacity="0.36"/>
<circle cx="121.0" cy="1249.7" r="13.3" fill="rgb(240, 172, 25)" fill-opacity="0.36"/>
<circle cx="121.2" cy="1249.4" r="12.1" fill="rgb(240, 172, 25)" fill-opacity="0.36"/>
<circle cx="120.7" cy="1249.4" r="10.9" fill="rgb(240, 172, 25)" fill-opacity="0.36"/>
<circle cx="126.0" cy="1248.7" r="16.5" fill="rgb(240, 172, 25)" fill-opacity="0.36"/>
<circle cx="127.4" cy="1249.4" r="15.3" fill="rgb(240, 172, 25)" fill-opacity="0.36"/>
<circle cx="126.8" cy="1248.3" r="14.2" fill="rgb(240, 172, 25)" fill-opacity="0.36"/>
<circle cx="126.4" cy="1248.5" r="13.0" fill="rgb(240, 172, 25)" fill-opacity="0.36"/>
<circle cx="126.5" cy="1249.5" r="11.9" fill="rgb(240, 172, 25)" fill-opacity="0.36"/>
<circle cx="126.3" cy="1249.6" r="10.7" fill="rgb(240, 172, 25)" fill-opacity="0.36"/>
<circle cx="133.9" cy="1248.3" r="15.0" fill="rgb(240, 172, 25)" fill-opacity="0.36"/>
<circle cx="132.7" cy="1249.0" r="13.9" fill="rgb(240, 172, 25)" fill-opacity="0.36"/>
<circle cx="131.9" cy="1248.9" r="12.9" fill="rgb(240, 172, 25)" fill-opacity="0.36"/>
<circle cx="134.0" cy="1248.4" r="11.9" fill="rgb(240, 172, 25)" fill-opacity="0.36"/>
<circle cx="133.2" cy="1248.4" r="10.8" fill="rgb(240, 172, 25)" fill-opacity="0.36"/>
<circle cx="133.2" cy="1249.6" r="9.7" fill="rgb(240, 172, 25)" fill-opacity="0.36"/>
<circle cx="139.3" cy="1248.2" r="14.0" fill="rgb(240, 172, 25)" fill-opacity="0.36"/>
<circle cx="139.0" cy="1249.1" r="13.0" fill="rgb(240, 172, 25)" fill-opacity="0.36"/>
<circle cx="138.8" cy="1248.3" r="12.0" fill="rgb(240, 172, 25)" fill-opacity="0.36"/>
<circle cx="140.0" cy="1249.7" r="11.1" fill="rgb(240, 172, 25)" fill-opacity="0.36"/>
<circle cx="139.8" cy="1248.8" r="10.1" fill="rgb(240, 172, 25)" fill-opacity="0.36"/>
<circle cx="140.3" cy="1248.3" r="9.1" fill="rgb(240, 172, 25)" fill-opacity="0.36"/>
<circle cx="146.2" cy="1248.5" r="14.0" fill="rgb(240, 172, 25)" fill-opacity="0.36"/>
<circle cx="146.3" cy="1249.7" r="13.0" fill="rgb(240, 172, 25)" fill-opacity="0.36"/>
<circle cx="144.9" cy="1249.1" r="12.0" fill="rgb(240, 172, 25)" fill-opacity="0.36"/>
<circle cx="146.3" cy="1248.4" r="11.1" fill="rgb(240, 172, 25)" fill-opacity="0.36"/>
<circle cx="145.4" cy="1249.8" r="10.1" fill="rgb(240, 172, 25)" fill-opacity="0.36"/>
<circle cx="147.2" cy="1248.4" r="9.1" fill="rgb(240, 172, 25)" fill-opacity="0.36"/>
<circle cx="152.5" cy="1249.7" r="13.5" fill="rgb(240, 172, 25)" fill-opacity="0.36"/>
<circle cx="151.4" cy="1249.2" r="12.6" fill="rgb(240, 172, 25)" fill-opacity="0.36"/>
<circle cx="150.9" cy="1248.8" r="11.6" fill="rgb(240, 172, 25)" fill-opacity="0.36"/>
<circle cx="152.4" cy="1249.1" r="10.7" fill="rgb(240, 172, 25)" fill-opacity="0.36"/>
<circle cx="152.7" cy="1248.3" r="9.7" fill="rgb(240, 172, 25)" fill-opacity="0.36"/>
<circle cx="151.6" cy="1249.6" r="8.8" fill="rgb(240, 172, 25)" fill-opacity="0.36"/>
<circle cx="158.2" cy="1248.9" r="12.0" fill="rgb(240, 172, 25)" fill-opacity="0.36"/>
<circle cx="157.8" cy="1249.8" r="11.2" fill="rgb(240, 172, 25)" fill-opacity="0.36"/>
<circle cx="158.2" cy="1248.2" r="10.3" fill="rgb(240, 172, 25)" fill-opacity="0.36"/>
<circle cx="158.7" cy="1248.7" r="9.5" fill="rgb(240, 172, 25)" fill-opacity="0.36"/>
<circle cx="157.8" cy="1248.5" r="8.6" fill="rgb(240, 172, 25)" fill-opacity="0.36"/>
<circle cx="157.9" cy="1248.7" r="7.8" fill="rgb(240, 172, 25)" fill-opacity="0.36"/>
<circle cx="181.2" cy="1249.4" r="12.0" fill="rgb(128, 182, 58)" fill-opacity="0.36"/>
<circle cx="181.2" cy="1249.0" r="11.2" fill="rgb(128, 182, 58)" fill-opacity="0.36"/>
<circle cx="181.8" cy="1250.0" r="10.3" fill="rgb(128, 182, 58)" fill-opacity="0.36"/>
<circle cx="181.4" cy="1249.0" r="9.5" fill="rgb(128, 182, 58)" fill-opacity="0.36"/>
<circle cx="181.0" cy="1249.2" r="8.6" fill="rgb(128, 182, 58)" fill-opacity="0.36"/>
<circle cx="180.4" cy="1250.2" r="7.8" fill="rgb(128, 182, 58)" fill-opacity="0.36"/>
<circle cx="187.2" cy="1248.8" r="14.0" fill="rgb(128, 182, 58)" fill-opacity="0.36"/>
<circle cx="186.9" cy="1249.7" r="13.0" fill="rgb(128, 182, 58)" fill-opacity="0.36"/>
<circle cx="185.7" cy="1249.2" r="12.0" fill="rgb(128, 182, 58)" fill-opacity="0.36"/>
<circle cx="186.4" cy="1249.4" r="11.1" fill="rgb(128, 182, 58)" fill-opacity="0.36"/>
<circle cx="186.4" cy="1249.8" r="10.1" fill="rgb(128, 182, 58)" fill-opacity="0.36"/>
<circle cx="185.1" cy="1249.9" r="9.1" fill="rgb(128, 182, 58)" fill-opacity="0.36"/>
<circle cx="194.2" cy="1250.3" r="14.5" fill="rgb(128, 182, 58)" fill-opacity="0.36"/>
<circle cx="193.3" cy="1248.8" r="13.5" fill="rgb(128, 182, 58)" fill-opacity="0.36"/>
<circle cx="191.8" cy="1248.9" r="12.5" fill="rgb(128, 182, 58)" fill-opacity="0.36"/>
<circle cx="194.1" cy="1249.2" r="11.5" fill="rgb(128, 182, 58)" fill-opacity="0.36"/>
<circle cx="192.7" cy="1250.1" r="10.4" fill="rgb(128, 182, 58)" fill-opacity="0.36"/>
<circle cx="192.6" cy="1249.6" r="9.4" fill="rgb(128, 182, 58)" fill-opacity="0.36"/>
<circle cx="200.8" cy="1248.8" r="15.5" fill="rgb(128, 182, 58)" fill-opacity="0.36"/>
<circle cx="201.2" cy="1250.1" r="14.4" fill="rgb(128, 182, 58)" fill-opacity="0.36"/>
<circle cx="200.2" cy="1249.1" r="13.3" fill="rgb(128, 182, 58)" fill-opacity="0.36"/>
<circle cx="200.8" cy="1248.8" r="12.2" fill="rgb(128, 182, 58)" fill-opacity="0.36"/>
<circle cx="201.0" cy="1250.0" r="11.2" fill="rgb(128, 182, 58)" fill-opacity="0.36"/>
<circle cx="201.4" cy="1249.6" r="10.1" fill="rgb(128, 182, 58)" fill-opacity="0.36"/>
<circle cx="208.9" cy="1248.9" r="16.8" fill="rgb(128, 182, 58)" fill-opacity="0.36"/>
<circle cx="208.2" cy="1249.3" r="15.6" fill="rgb(128, 182, 58)" fill-opacity="0.36"/>
<circle cx="208.2" cy="1248.9" r="14.4" fill="rgb(128, 182, 58)" fill-opacity="0.36"/>
<circle cx="208.7" cy="1248.9" r="13.3" fill="rgb(128, 182, 58)" fill-opacity="0.36"/>
<circle cx="207.2" cy="1250.0" r="12.1" fill="rgb(128, 182, 58)" fill-opacity="0.36"/>
<circle cx="209.1" cy="1249.4" r="10.9" fill="rgb(128, 182, 58)" fill-opacity="0.36"/>
<circle cx="211.8" cy="1249.1" r="16.5" fill="rgb(128, 182, 58)" fill-opacity="0.36"/>
<circle cx="211.5" cy="1249.7" r="15.3" fill="rgb(128, 182, 58)" fill-opacity="0.36"/>
<circle cx="211.2" cy="1248.9" r="14.2" fill="rgb(128, 182, 58)" fill-opacity="0.36"/>
<circle cx="211.9" cy="1249.0" r="13.0" fill="rgb(128, 182, 58)" fill-opacity="0.36"/>
<circle cx="212.4" cy="1250.0" r="11.9" fill="rgb(128, 182, 58)" fill-opacity="0.36"/>
<circle cx="212.7" cy="1249.5" r="10.7" fill="rgb(128, 182, 58)" fill-opacity="0.36"/>
<circle cx="358.9" cy="1250.1" r="12.5" fill="rgb(240, 172, 25)" fill-opacity="0.36"/>
<circle cx="360.0" cy="1249.9" r="11.6" fill="rgb(240, 172, 25)" fill-opacity="0.36"/>
<circle cx="359.0" cy="1250.1" r="10.8" fill="rgb(240, 172, 25)" fill-opacity="0.36"/>
<circle cx="358.2" cy="1250.0" r="9.9" fill="rgb(240, 172, 25)" fill-opacity="0.36"/>
<circle cx="359.3" cy="1250.5" r="9.0" fill="rgb(240, 172, 25)" fill-opacity="0.36"/>
<circle cx="358.0" cy="1249.7" r="8.1" fill="rgb(240, 172, 25)" fill-opacity="0.36"/>
<circle cx="363.0" cy="1250.5" r="16.0" fill="rgb(240, 172, 25)" fill-opacity="0.36"/>
<circle cx="364.5" cy="1249.3" r="14.9" fill="rgb(240, 172, 25)" fill-opacity="0.36"/>
<circle cx="365.2" cy="1250.7" r="13.8" fill="rgb(240, 172, 25)" fill-opacity="0.36"/>
<circle cx="364.4" cy="1250.2" r="12.6" fill="rgb(240, 172, 25)" fill-opacity="0.36"/>
<circle cx="363.2" cy="1249.2" r="11.5" fill="rgb(240, 172, 25)" fill-opacity="0.36"/>
<circle cx="364.1" cy="1249.3" r="10.4" fill="rgb(240, 172, 25)" fill-opacity="0.36"/>
<circle cx="371.3" cy="1249.6" r="16.0" fill="rgb(240, 172, 25)" fill-opacity="0.36"/>
<circle cx="370.9" cy="1249.9" r="14.9" fill="rgb(240, 172, 25)" fill-opacity="0.36"/>
<circle cx="371.9" cy="1250.5" r="13.8" fill="rgb(240, 172, 25)" fill-opacity="0.36"/>
<circle cx="372.0" cy="1250.2" r="12.6" fill="rgb(240, 172, 25)" fill-opacity="0.36"/>
<circle cx="372.0" cy="1250.3" r="11.5" fill="rgb(240, 172, 25)" fill-opacity="0.36"/>
<circle cx="371.9" cy="1249.6" r="10.4" fill="rgb(240, 172, 25)" fill-opacity="0.36"/>
<circle cx="381.2" cy="1250.8" r="15.5" fill="rgb(240, 172, 25)" fill-opacity="0.36"/>
<circle cx="380.8" cy="1250.3" r="14.4" fill="rgb(240, 172, 25)" fill-opacity="0.36"/>
<circle cx="379.6" cy="1249.6" r="13.3" fill="rgb(240, 172, 25)" fill-opacity="0.36"/>
<circle cx="379.5" cy="1249.3" r="12.2" fill="rgb(240, 172, 25)" fill-opacity="0.36"/>
<circle cx="380.6" cy="1249.8" r="11.2" fill="rgb(240, 172, 25)" fill-opacity="0.36"/>
<circle cx="380.8" cy="1249.8" r="10.1" fill="rgb(240, 172, 25)" fill-opacity="0.36"/>
<circle cx="389.1" cy="1250.6" r="15.0" fill="rgb(240, 172, 25)" fill-opacity="0.36"/>
<circle cx="386.8" cy="1249.5" r="13.9" fill="rgb(240, 172, 25)" fill-opacity="0.36"/>
<circle cx="389.0" cy="1250.0" r="12.9" fill="rgb(240, 172, 25)" fill-opacity="0.36"/>
<circle cx="389.2" cy="1249.8" r="11.9" fill="rgb(240, 172, 25)" fill-opacity="0.36"/>
<circle cx="387.0" cy="1250.2" r="10.8" fill="rgb(240, 172, 25)" fill-opacity="0.36"/>
<circle cx="388.7" cy="1249.6" r="9.7" fill="rgb(240, 172, 25)" fill-opacity="0.36"/>
<circle cx="394.0" cy="1249.7" r="15.0" fill="rgb(240, 172, 25)" fill-opacity="0.36"/>
<circle cx="396.1" cy="1250.4" r="13.9" fill="rgb(240, 172, 25)" fill-opacity="0.36"/>
<circle cx="394.1" cy="1249.6" r="12.9" fill="rgb(240, 172, 25)" fill-opacity="0.36"/>
<circle cx="394.0" cy="1249.3" r="11.9" fill="rgb(240, 172, 25)" fill-opacity="0.36"/>
<circle cx="395.7" cy="1249.5" r="10.8" fill="rgb(240, 172, 25)" fill-opacity="0.36"/>
<circle cx="395.1" cy="1249.9" r="9.7" fill="rgb(240, 172, 25)" fill-opacity="0.36"/>
<circle cx="400.3" cy="1250.4" r="13.0" fill="rgb(240, 172, 25)" fill-opacity="0.36"/>
<circle cx="400.1" cy="1250.2" r="12.1" fill="rgb(240, 172, 25)" fill-opacity="0.36"/>
<circle cx="400.1" cy="1249.9" r="11.2" fill="rgb(240, 172, 25)" fill-opacity="0.36"/>
<circle cx="400.3" cy="1249.6" r="10.3" fill="rgb(240, 172, 25)" fill-opacity="0.36"/>
<circle cx="402.1" cy="1250.5" r="9.4" fill="rgb(240, 172, 25)" fill-opacity="0.36"/>
<circle cx="400.5" cy="1250.6" r="8.4" fill="rgb(240, 172, 25)" fill-opacity="0.36"/>
<circle cx="404.3" cy="1249.8" r="11.0" fill="rgb(240, 172, 25)" fill-opacity="0.36"/>
<circle cx="405.9" cy="1250.2" r="10.2" fill="rgb(240, 172, 25)" fill-opacity="0.36"/>
<circle cx="404.0" cy="1250.8" r="9.5" fill="rgb(240, 172, 25)" fill-opacity="0.36"/>
<circle cx="404.3" cy="1249.6" r="8.7" fill="rgb(240, 172, 25)" fill-opacity="0.36"/>
<circle cx="405.7" cy="1249.7" r="7.9" fill="rgb(240, 172, 25)" fill-opacity="0.36"/>
<circle cx="404.5" cy="1249.3" r="7.1" fill="rgb(240, 172, 25)" fill-opacity="0.36"/>
<circle cx="420.9" cy="1250.3" r="13.0" fill="rgb(128, 182, 58)" fill-opacity="0.36"/>
<circle cx="421.4" cy="1249.4" r="12.1" fill="rgb(128, 182, 58)" fill-opacity="0.36"/>
<circle cx="419.8" cy="1249.8" r="11.2" fill="rgb(128, 182, 58)" fill-opacity="0.36"/>
<circle cx="420.5" cy="1250.5" r="10.3" fill="rgb(128, 182, 58)" fill-opacity="0.36"/>
<circle cx="421.5" cy="1250.2" r="9.4" fill="rgb(128, 182, 58)" fill-opacity="0.36"/>
<circle cx="421.1" cy="1250.3" r="8.4" fill="rgb(128, 182, 58)" fill-opacity="0.36"/>
<circle cx="427.1" cy="1249.9" r="15.5" fill="rgb(128, 182, 58)" fill-opacity="0.36"/>
<circle cx="427.2" cy="1250.6" r="14.4" fill="rgb(128, 182, 58)" fill-opacity="0.36"/>
<circle cx="426.9" cy="1250.5" r="13.3" fill="rgb(128, 182, 58)" fill-opacity="0.36"/>
<circle cx="427.0" cy="1250.3" r="12.2" fill="rgb(128, 182, 58)" fill-opacity="0.36"/>
<circle cx="427.6" cy="1249.8" r="11.2" fill="rgb(128, 182, 58)" fill-opacity="0.36"/>
<circle cx="428.8" cy="1249.2" r="10.1" fill="rgb(128, 182, 58)" fill-opacity="0.36"/>
<circle cx="434.9" cy="1250.7" r="16.0" fill="rgb(128, 182, 58)" fill-opacity="0.36"/>
<circle cx="436.0" cy="1249.3" r="14.9" fill="rgb(128, 182, 58)" fill-opacity="0.36"/>
<circle cx="437.2" cy="1250.7" r="13.8" fill="rgb(128, 182, 58)" fill-opacity="0.36"/>
<circle cx="435.1" cy="1249.9" r="12.6" fill="rgb(128, 182, 58)" fill-opacity="0.36"/>
<circle cx="435.1" cy="1249.7" r="11.5" fill="rgb(128, 182, 58)" fill-opacity="0.36"/>
<circle cx="436.3" cy="1249.5" r="10.4" fill="rgb(128, 182, 58)" fill-opacity="0.36"/>
<circle cx="444.5" cy="1249.3" r="16.0" fill="rgb(128, 182, 58)" fill-opacity="0.36"/>
<circle cx="443.2" cy="1250.5" r="14.9" fill="rgb(128, 182, 58)" fill-opacity="0.36"/>
<circle cx="443.8" cy="1249.9" r="13.8" fill="rgb(128, 182, 58)" fill-opacity="0.36"/>
<circle cx="444.2" cy="1250.0" r="12.6" fill="rgb(128, 182, 58)" fill-opacity="0.36"/>
<circle cx="443.7" cy="1249.2" r="11.5" fill="rgb(128, 182, 58)" fill-opacity="0.36"/>
<circle cx="444.5" cy="1250.7" r="10.4" fill="rgb(128, 182, 58)" fill-opacity="0.36"/>
<circle cx="453.1" cy="1250.3" r="16.0" fill="rgb(128, 182, 58)" fill-opacity="0.36"/>
<circle cx="451.7" cy="1249.8" r="14.9" fill="rgb(128, 182, 58)" fill-opacity="0.36"/>
<circle cx="452.5" cy="1250.3" r="13.8" fill="rgb(128, 182, 58)" fill-opacity="0.36"/>
<circle cx="451.1" cy="1249.6" r="12.6" fill="rgb(128, 182, 58)" fill-opacity="0.36"/>
<circle cx="451.7" cy="1250.0" r="11.5" fill="rgb(128, 182, 58)" fill-opacity="0.36"/>
<circle cx="452.7" cy="1250.0" r="10.4" fill="rgb(128, 182, 58)" fill-opacity="0.36"/>
<circle cx="454.9" cy="1250.5" r="15.5" fill="rgb(128, 182, 58)" fill-opacity="0.36"/>
<circle cx="455.8" cy="1250.0" r="14.4" fill="rgb(128, 182, 58)" fill-opacity="0.36"/>
<circle cx="455.3" cy="1249.9" r="13.3" fill="rgb(128, 182, 58)" fill-opacity="0.36"/>
<circle cx="455.7" cy="1250.4" r="12.2" fill="rgb(128, 182, 58)" fill-opacity="0.36"/>
<circle cx="455.0" cy="1250.1" r="11.2" fill="rgb(128, 182, 58)" fill-opacity="0.36"/>
<circle cx="455.2" cy="1250.3" r="10.1" fill="rgb(128, 182, 58)" fill-opacity="0.36"/>
<circle cx="459.9" cy="1249.6" r="12.0" fill="rgb(128, 182, 58)" fill-opacity="0.36"/>
<circle cx="460.6" cy="1250.2" r="11.2" fill="rgb(128, 182, 58)" fill-opacity="0.36"/>
<circle cx="459.9" cy="1249.9" r="10.3" fill="rgb(128, 182, 58)" fill-opacity="0.36"/>
<circle cx="460.3" cy="1249.7" r="9.5" fill="rgb(128, 182, 58)" fill-opacity="0.36"/>
<circle cx="460.9" cy="1250.7" r="8.6" fill="rgb(128, 182, 58)" fill-opacity="0.36"/>
<circle cx="461.0" cy="1250.7" r="7.8" fill="rgb(128, 182, 58)" fill-opacity="0.36"/>
<circle cx="166.1" cy="185.6" r="16.7" fill="rgb(225, 33, 45)" fill-opacity="0.43"/>
<circle cx="158.5" cy="191.1" r="4.2" fill="rgb(225, 33, 45)" fill-opacity="0.43"/>
<circle cx="169.6" cy="192.4" r="4.7" fill="rgb(225, 33, 45)" fill-opacity="0.43"/>
<circle cx="185.5" cy="198.2" r="7.5" fill="rgb(225, 33, 45)" fill-opacity="0.43"/>
<circle cx="172.2" cy="219.9" r="15.2" fill="rgb(225, 33, 45)" fill-opacity="0.43"/>
<circle cx="126.9" cy="232.2" r="12.6" fill="rgb(225, 33, 45)" fill-opacity="0.43"/>
<circle cx="132.1" cy="241.1" r="13.1" fill="rgb(225, 33, 45)" fill-opacity="0.43"/>
<circle cx="158.3" cy="230.3" r="10.5" fill="rgb(225, 33, 45)" fill-opacity="0.43"/>
<circle cx="156.2" cy="235.1" r="5.2" fill="rgb(225, 33, 45)" fill-opacity="0.43"/>
<circle cx="148.0" cy="252.1" r="4.0" fill="rgb(225, 33, 45)" fill-opacity="0.43"/>
<circle cx="200.1" cy="240.8" r="8.4" fill="rgb(225, 33, 45)" fill-opacity="0.43"/>
<circle cx="208.5" cy="249.5" r="8.9" fill="rgb(225, 33, 45)" fill-opacity="0.43"/>
<circle cx="127.4" cy="261.5" r="3.7" fill="rgb(225, 33, 45)" fill-opacity="0.43"/>
<circle cx="166.1" cy="267.3" r="4.7" fill="rgb(225, 33, 45)" fill-opacity="0.43"/>
<circle cx="165.9" cy="282.0" r="10.5" fill="rgb(225, 33, 45)" fill-opacity="0.43"/>
<circle cx="203.3" cy="293.0" r="8.9" fill="rgb(225, 33, 45)" fill-opacity="0.43"/>
<circle cx="200.6" cy="295.6" r="3.1" fill="rgb(225, 33, 45)" fill-opacity="0.43"/>
<circle cx="204.8" cy="305.5" r="6.3" fill="rgb(225, 33, 45)" fill-opacity="0.43"/>
<circle cx="165.6" cy="305.5" r="3.1" fill="rgb(225, 33, 45)" fill-opacity="0.43"/>
<circle cx="166.1" cy="321.7" r="14.1" fill="rgb(225, 33, 45)" fill-opacity="0.43"/>
<circle cx="166.1" cy="340.6" r="9.4" fill="rgb(225, 33, 45)" fill-opacity="0.43"/>
<circle cx="166.1" cy="350.5" r="16.7" fill="rgb(225, 33, 45)" fill-opacity="0.43"/>
<circle cx="161.4" cy="332.2" r="2.6" fill="rgb(225, 33, 45)" fill-opacity="0.43"/>
<circle cx="170.3" cy="353.6" r="3.7" fill="rgb(225, 33, 45)" fill-opacity="0.43"/>
<circle cx="166.1" cy="363.1" r="2.6" fill="rgb(225, 33, 45)" fill-opacity="0.43"/>
<circle cx="160.9" cy="272.6" r="2.0" fill="rgb(225, 33, 45)" fill-opacity="0.43"/>
<circle cx="415.7" cy="181.1" r="9.0" fill="rgb(225, 33, 45)" fill-opacity="0.43"/>
<circle cx="415.7" cy="188.9" r="14.3" fill="rgb(225, 33, 45)" fill-opacity="0.43"/>
<circle cx="415.1" cy="199.7" r="19.1" fill="rgb(225, 33, 45)" fill-opacity="0.43"/>
<circle cx="379.8" cy="225.4" r="12.0" fill="rgb(225, 33, 45)" fill-opacity="0.43"/>
<circle cx="380.4" cy="239.1" r="12.0" fill="rgb(225, 33, 45)" fill-opacity="0.43"/>
<circle cx="406.7" cy="222.4" r="19.1" fill="rgb(225, 33, 45)" fill-opacity="0.43"/>
<circle cx="416.3" cy="229.6" r="19.1" fill="rgb(225, 33, 45)" fill-opacity="0.43"/>
<circle cx="428.3" cy="226.0" r="13.2" fill="rgb(225, 33, 45)" fill-opacity="0.43"/>
<circle cx="434.3" cy="218.8" r="12.0" fill="rgb(225, 33, 45)" fill-opacity="0.43"/>
<circle cx="451.6" cy="215.2" r="7.2" fill="rgb(225, 33, 45)" fill-opacity="0.43"/>
<circle cx="449.8" cy="227.2" r="9.6" fill="rgb(225, 33, 45)" fill-opacity="0.43"/>
<circle cx="397.2" cy="224.8" r="14.3" fill="rgb(225, 33, 45)" fill-opacity="0.43"/>
<circle cx="402.0" cy="212.8" r="13.2" fill="rgb(225, 33, 45)" fill-opacity="0.43"/>
<circle cx="375.7" cy="257.1" r="12.0" fill="rgb(225, 33, 45)" fill-opacity="0.43"/>
<circle cx="370.3" cy="276.2" r="7.2" fill="rgb(225, 33, 45)" fill-opacity="0.43"/>
<circle cx="417.5" cy="263.1" r="7.2" fill="rgb(225, 33, 45)" fill-opacity="0.43"/>
<circle cx="454.6" cy="260.7" r="23.9" fill="rgb(225, 33, 45)" fill-opacity="0.43"/>
<circle cx="456.4" cy="248.7" r="6.6" fill="rgb(225, 33, 45)" fill-opacity="0.43"/>
<circle cx="458.2" cy="262.5" r="3.6" fill="rgb(225, 33, 45)" fill-opacity="0.43"/>
<circle cx="440.2" cy="234.4" r="12.0" fill="rgb(225, 33, 45)" fill-opacity="0.43"/>
<circle cx="370.3" cy="277.9" r="7.8" fill="rgb(225, 33, 45)" fill-opacity="0.43"/>
<circle cx="415.1" cy="281.5" r="6.6" fill="rgb(225, 33, 45)" fill-opacity="0.43"/>
<circle cx="416.3" cy="288.1" r="4.2" fill="rgb(225, 33, 45)" fill-opacity="0.43"/>
<circle cx="454.6" cy="282.7" r="8.4" fill="rgb(225, 33, 45)" fill-opacity="0.43"/>
<circle cx="459.4" cy="279.1" r="4.8" fill="rgb(225, 33, 45)" fill-opacity="0.43"/>
<circle cx="457.0" cy="262.4" r="3.6" fill="rgb(225, 33, 45)" fill-opacity="0.43"/>
<circle cx="381.0" cy="318.0" r="18.0" fill="rgb(225, 33, 45)" fill-opacity="0.43"/>
<circle cx="379.2" cy="303.0" r="15.5" fill="rgb(225, 33, 45)" fill-opacity="0.43"/>
<circle cx="385.2" cy="309.0" r="9.6" fill="rgb(225, 33, 45)" fill-opacity="0.43"/>
<circle cx="409.1" cy="312.6" r="15.5" fill="rgb(225, 33, 45)" fill-opacity="0.43"/>
<circle cx="418.7" cy="311.4" r="21.5" fill="rgb(225, 33, 45)" fill-opacity="0.43"/>
<circle cx="410.3" cy="322.2" r="12.0" fill="rgb(225, 33, 45)" fill-opacity="0.43"/>
<circle cx="402.0" cy="341.3" r="12.0" fill="rgb(225, 33, 45)" fill-opacity="0.43"/>
<circle cx="414.5" cy="352.7" r="23.0" fill="rgb(225, 33, 45)" fill-opacity="0.43"/>
<circle cx="428.3" cy="347.9" r="9.6" fill="rgb(225, 33, 45)" fill-opacity="0.43"/>
<circle cx="412.7" cy="346.1" r="7.2" fill="rgb(225, 33, 45)" fill-opacity="0.43"/>
<circle cx="422.3" cy="309.0" r="15.5" fill="rgb(225, 33, 45)" fill-opacity="0.43"/>
<circle cx="166.1" cy="433.3" r="11.0" fill="rgb(225, 33, 45)" fill-opacity="0.43"/>
<circle cx="166.1" cy="438.0" r="7.3" fill="rgb(225, 33, 45)" fill-opacity="0.43"/>
<circle cx="147.3" cy="443.3" r="4.0" fill="rgb(225, 33, 45)" fill-opacity="0.43"/>
<circle cx="165.1" cy="445.3" r="11.5" fill="rgb(225, 33, 45)" fill-opacity="0.43"/>
<circle cx="166.1" cy="452.7" r="12.6" fill="rgb(225, 33, 45)" fill-opacity="0.43"/>
<circle cx="169.2" cy="449.5" r="9.4" fill="rgb(225, 33, 45)" fill-opacity="0.43"/>
<circle cx="189.6" cy="470.5" r="14.1" fill="rgb(225, 33, 45)" fill-opacity="0.43"/>
<circle cx="193.3" cy="477.3" r="3.7" fill="rgb(225, 33, 45)" fill-opacity="0.43"/>
<circle cx="161.9" cy="476.7" r="12.6" fill="rgb(225, 33, 45)" fill-opacity="0.43"/>
<circle cx="163.0" cy="473.6" r="8.4" fill="rgb(225, 33, 45)" fill-opacity="0.43"/>
<circle cx="160.9" cy="488.2" r="15.7" fill="rgb(225, 33, 45)" fill-opacity="0.43"/>
<circle cx="141.0" cy="478.8" r="5.8" fill="rgb(225, 33, 45)" fill-opacity="0.43"/>
<circle cx="127.4" cy="488.2" r="13.6" fill="rgb(225, 33, 45)" fill-opacity="0.43"/>
<circle cx="130.5" cy="497.7" r="11.5" fill="rgb(225, 33, 45)" fill-opacity="0.43"/>
<circle cx="125.3" cy="500.8" r="4.2" fill="rgb(225, 33, 45)" fill-opacity="0.43"/>
<circle cx="165.1" cy="520.7" r="3.1" fill="rgb(225, 33, 45)" fill-opacity="0.43"/>
<circle cx="161.9" cy="524.9" r="3.1" fill="rgb(225, 33, 45)" fill-opacity="0.43"/>
<circle cx="166.1" cy="519.6" r="3.7" fill="rgb(225, 33, 45)" fill-opacity="0.43"/>
<circle cx="163.0" cy="525.9" r="4.2" fill="rgb(225, 33, 45)" fill-opacity="0.43"/>
<circle cx="167.2" cy="529.1" r="4.7" fill="rgb(225, 33, 45)" fill-opacity="0.43"/>
<circle cx="130.0" cy="545.8" r="11.5" fill="rgb(225, 33, 45)" fill-opacity="0.43"/>
<circle cx="129.5" cy="549.0" r="7.3" fill="rgb(225, 33, 45)" fill-opacity="0.43"/>
<circle cx="130.5" cy="552.1" r="8.9" fill="rgb(225, 33, 45)" fill-opacity="0.43"/>
<circle cx="131.6" cy="563.6" r="13.6" fill="rgb(225, 33, 45)" fill-opacity="0.43"/>
<circle cx="144.1" cy="556.3" r="7.3" fill="rgb(225, 33, 45)" fill-opacity="0.43"/>
<circle cx="148.3" cy="562.5" r="9.4" fill="rgb(225, 33, 45)" fill-opacity="0.43"/>
<circle cx="143.1" cy="577.2" r="10.5" fill="rgb(225, 33, 45)" fill-opacity="0.43"/>
<circle cx="160.9" cy="565.7" r="7.3" fill="rgb(225, 33, 45)" fill-opacity="0.43"/>
<circle cx="161.9" cy="568.8" r="15.7" fill="rgb(225, 33, 45)" fill-opacity="0.43"/>
<circle cx="137.9" cy="569.9" r="6.3" fill="rgb(225, 33, 45)" fill-opacity="0.43"/>
<circle cx="200.1" cy="579.8" r="15.7" fill="rgb(225, 33, 45)" fill-opacity="0.43"/>
<circle cx="131.1" cy="595.0" r="11.0" fill="rgb(225, 33, 45)" fill-opacity="0.43"/>
<circle cx="145.2" cy="564.6" r="5.2" fill="rgb(225, 33, 45)" fill-opacity="0.43"/>
<circle cx="410.9" cy="441.7" r="5.8" fill="rgb(225, 33, 45)" fill-opacity="0.43"/>
<circle cx="415.6" cy="453.3" r="7.3" fill="rgb(225, 33, 45)" fill-opacity="0.43"/>
<circle cx="388.4" cy="454.8" r="12.6" fill="rgb(225, 33, 45)" fill-opacity="0.43"/>
<circle cx="373.3" cy="471.0" r="15.2" fill="rgb(225, 33, 45)" fill-opacity="0.43"/>
<circle cx="379.5" cy="477.3" r="10.5" fill="rgb(225, 33, 45)" fill-opacity="0.43"/>
<circle cx="409.4" cy="479.4" r="15.7" fill="rgb(225, 33, 45)" fill-opacity="0.43"/>
<circle cx="408.8" cy="479.4" r="7.3" fill="rgb(225, 33, 45)" fill-opacity="0.43"/>
<circle cx="408.8" cy="475.2" r="11.5" fill="rgb(225, 33, 45)" fill-opacity="0.43"/>
<circle cx="443.4" cy="469.0" r="11.0" fill="rgb(225, 33, 45)" fill-opacity="0.43"/>
<circle cx="383.7" cy="498.2" r="9.4" fill="rgb(225, 33, 45)" fill-opacity="0.43"/>
<circle cx="379.5" cy="496.2" r="5.2" fill="rgb(225, 33, 45)" fill-opacity="0.43"/>
<circle cx="375.3" cy="507.7" r="11.5" fill="rgb(225, 33, 45)" fill-opacity="0.43"/>
<circle cx="377.4" cy="510.8" r="5.2" fill="rgb(225, 33, 45)" fill-opacity="0.43"/>
<circle cx="415.1" cy="513.4" r="6.8" fill="rgb(225, 33, 45)" fill-opacity="0.43"/>
<circle cx="373.3" cy="518.1" r="11.5" fill="rgb(225, 33, 45)" fill-opacity="0.43"/>
<circle cx="373.8" cy="550.6" r="3.1" fill="rgb(225, 33, 45)" fill-opacity="0.43"/>
<circle cx="381.1" cy="553.2" r="6.8" fill="rgb(225, 33, 45)" fill-opacity="0.43"/>
<circle cx="378.5" cy="557.9" r="3.1" fill="rgb(225, 33, 45)" fill-opacity="0.43"/>
<circle cx="386.9" cy="563.7" r="7.3" fill="rgb(225, 33, 45)" fill-opacity="0.43"/>
<circle cx="398.9" cy="571.5" r="6.3" fill="rgb(225, 33, 45)" fill-opacity="0.43"/>
<circle cx="391.0" cy="582.0" r="11.5" fill="rgb(225, 33, 45)" fill-opacity="0.43"/>
<circle cx="395.2" cy="575.7" r="6.3" fill="rgb(225, 33, 45)" fill-opacity="0.43"/>
<circle cx="441.3" cy="557.9" r="13.6" fill="rgb(225, 33, 45)" fill-opacity="0.43"/>
<circle cx="440.7" cy="568.4" r="3.1" fill="rgb(225, 33, 45)" fill-opacity="0.43"/>
<circle cx="365.9" cy="577.8" r="2.3" fill="rgb(225, 33, 45)" fill-opacity="0.43"/>
<circle cx="402.0" cy="596.1" r="6.8" fill="rgb(225, 33, 45)" fill-opacity="0.43"/>
<circle cx="416.2" cy="594.5" r="7.3" fill="rgb(225, 33, 45)" fill-opacity="0.43"/>
<circle cx="418.2" cy="600.8" r="12.0" fill="rgb(225, 33, 45)" fill-opacity="0.43"/>
<circle cx="414.1" cy="606.0" r="10.0" fill="rgb(225, 33, 45)" fill-opacity="0.43"/>
<circle cx="416.2" cy="612.8" r="9.5" fill="rgb(225, 33, 45)" fill-opacity="0.43"/>
<circle cx="406.7" cy="594.5" r="7.3" fill="rgb(225, 33, 45)" fill-opacity="0.43"/>
<circle cx="165.6" cy="922.0" r="5.2" fill="rgb(225, 33, 45)" fill-opacity="0.43"/>
<circle cx="165.1" cy="929.8" r="3.7" fill="rgb(225, 33, 45)" fill-opacity="0.43"/>
<circle cx="130.0" cy="931.4" r="5.8" fill="rgb(225, 33, 45)" fill-opacity="0.43"/>
<circle cx="178.7" cy="939.2" r="7.8" fill="rgb(225, 33, 45)" fill-opacity="0.43"/>
<circle cx="131.1" cy="954.9" r="8.9" fill="rgb(225, 33, 45)" fill-opacity="0.43"/>
<circle cx="153.5" cy="950.2" r="11.5" fill="rgb(225, 33, 45)" fill-opacity="0.43"/>
<circle cx="159.8" cy="946.0" r="8.4" fill="rgb(225, 33, 45)" fill-opacity="0.43"/>
<circle cx="158.8" cy="958.6" r="13.6" fill="rgb(225, 33, 45)" fill-opacity="0.43"/>
<circle cx="164.0" cy="956.5" r="13.6" fill="rgb(225, 33, 45)" fill-opacity="0.43"/>
<circle cx="169.2" cy="958.6" r="8.4" fill="rgb(225, 33, 45)" fill-opacity="0.43"/>
<circle cx="192.3" cy="951.3" r="9.9" fill="rgb(225, 33, 45)" fill-opacity="0.43"/>
<circle cx="186.0" cy="955.5" r="6.3" fill="rgb(225, 33, 45)" fill-opacity="0.43"/>
<circle cx="196.5" cy="961.7" r="9.9" fill="rgb(225, 33, 45)" fill-opacity="0.43"/>
<circle cx="202.7" cy="978.0" r="12.6" fill="rgb(225, 33, 45)" fill-opacity="0.43"/>
<circle cx="149.4" cy="973.2" r="10.5" fill="rgb(225, 33, 45)" fill-opacity="0.43"/>
<circle cx="165.1" cy="982.7" r="15.2" fill="rgb(225, 33, 45)" fill-opacity="0.43"/>
<circle cx="125.3" cy="986.8" r="5.8" fill="rgb(225, 33, 45)" fill-opacity="0.43"/>
<circle cx="123.2" cy="925.1" r="1.6" fill="rgb(225, 33, 45)" fill-opacity="0.43"/>
<circle cx="165.1" cy="1004.4" r="11.5" fill="rgb(225, 33, 45)" fill-opacity="0.43"/>
<circle cx="165.1" cy="1010.7" r="10.5" fill="rgb(225, 33, 45)" fill-opacity="0.43"/>
<circle cx="125.3" cy="1009.6" r="5.8" fill="rgb(225, 33, 45)" fill-opacity="0.43"/>
<circle cx="126.3" cy="1019.1" r="6.3" fill="rgb(225, 33, 45)" fill-opacity="0.43"/>
<circle cx="204.3" cy="1015.9" r="6.8" fill="rgb(225, 33, 45)" fill-opacity="0.43"/>
<circle cx="129.5" cy="1026.4" r="16.7" fill="rgb(225, 33, 45)" fill-opacity="0.43"/>
<circle cx="199.6" cy="1028.5" r="10.5" fill="rgb(225, 33, 45)" fill-opacity="0.43"/>
<circle cx="177.6" cy="1033.7" r="10.5" fill="rgb(225, 33, 45)" fill-opacity="0.43"/>
<circle cx="196.5" cy="1035.8" r="4.2" fill="rgb(225, 33, 45)" fill-opacity="0.43"/>
<circle cx="127.4" cy="1049.4" r="14.6" fill="rgb(225, 33, 45)" fill-opacity="0.43"/>
<circle cx="139.9" cy="1044.2" r="16.7" fill="rgb(225, 33, 45)" fill-opacity="0.43"/>
<circle cx="160.9" cy="1040.0" r="16.7" fill="rgb(225, 33, 45)" fill-opacity="0.43"/>
<circle cx="169.2" cy="1044.2" r="11.5" fill="rgb(225, 33, 45)" fill-opacity="0.43"/>
<circle cx="196.5" cy="1053.6" r="14.6" fill="rgb(225, 33, 45)" fill-opacity="0.43"/>
<circle cx="186.0" cy="1059.9" r="10.5" fill="rgb(225, 33, 45)" fill-opacity="0.43"/>
<circle cx="180.8" cy="1066.2" r="10.5" fill="rgb(225, 33, 45)" fill-opacity="0.43"/>
<circle cx="157.7" cy="1062.0" r="5.2" fill="rgb(225, 33, 45)" fill-opacity="0.43"/>
<circle cx="166.1" cy="1075.6" r="6.8" fill="rgb(225, 33, 45)" fill-opacity="0.43"/>
<circle cx="167.2" cy="1069.3" r="4.7" fill="rgb(225, 33, 45)" fill-opacity="0.43"/>
<circle cx="152.5" cy="1084.5" r="6.3" fill="rgb(225, 33, 45)" fill-opacity="0.43"/>
<circle cx="158.8" cy="1028.5" r="6.3" fill="rgb(225, 33, 45)" fill-opacity="0.43"/>
<circle cx="139.9" cy="1031.6" r="10.5" fill="rgb(225, 33, 45)" fill-opacity="0.43"/>
<circle cx="409.6" cy="910.7" r="8.9" fill="rgb(225, 33, 45)" fill-opacity="0.43"/>
<circle cx="409.6" cy="917.0" r="9.4" fill="rgb(225, 33, 45)" fill-opacity="0.43"/>
<circle cx="388.7" cy="920.6" r="8.9" fill="rgb(225, 33, 45)" fill-opacity="0.43"/>
<circle cx="413.2" cy="922.2" r="10.5" fill="rgb(225, 33, 45)" fill-opacity="0.43"/>
<circle cx="409.6" cy="928.5" r="5.8" fill="rgb(225, 33, 45)" fill-opacity="0.43"/>
<circle cx="396.5" cy="937.9" r="10.5" fill="rgb(225, 33, 45)" fill-opacity="0.43"/>
<circle cx="382.4" cy="943.1" r="5.8" fill="rgb(225, 33, 45)" fill-opacity="0.43"/>
<circle cx="422.7" cy="940.0" r="5.8" fill="rgb(225, 33, 45)" fill-opacity="0.43"/>
<circle cx="400.7" cy="945.2" r="10.5" fill="rgb(225, 33, 45)" fill-opacity="0.43"/>
<circle cx="403.8" cy="953.6" r="10.5" fill="rgb(225, 33, 45)" fill-opacity="0.43"/>
<circle cx="407.0" cy="949.4" r="11.5" fill="rgb(225, 33, 45)" fill-opacity="0.43"/>
<circle cx="445.7" cy="948.9" r="9.4" fill="rgb(225, 33, 45)" fill-opacity="0.43"/>
<circle cx="367.7" cy="954.6" r="9.4" fill="rgb(225, 33, 45)" fill-opacity="0.43"/>
<circle cx="380.8" cy="958.8" r="5.2" fill="rgb(225, 33, 45)" fill-opacity="0.43"/>
<circle cx="372.4" cy="962.0" r="11.5" fill="rgb(225, 33, 45)" fill-opacity="0.43"/>
<circle cx="375.6" cy="969.3" r="7.8" fill="rgb(225, 33, 45)" fill-opacity="0.43"/>
<circle cx="402.8" cy="966.7" r="4.2" fill="rgb(225, 33, 45)" fill-opacity="0.43"/>
<circle cx="416.4" cy="967.2" r="5.8" fill="rgb(225, 33, 45)" fill-opacity="0.43"/>
<circle cx="444.6" cy="962.0" r="1.9" fill="rgb(225, 33, 45)" fill-opacity="0.43"/>
<circle cx="409.6" cy="989.7" r="7.8" fill="rgb(225, 33, 45)" fill-opacity="0.43"/>
<circle cx="449.9" cy="990.2" r="4.2" fill="rgb(225, 33, 45)" fill-opacity="0.43"/>
<circle cx="400.7" cy="999.4" r="6.3" fill="rgb(225, 33, 45)" fill-opacity="0.43"/>
<circle cx="418.5" cy="1004.6" r="7.8" fill="rgb(225, 33, 45)" fill-opacity="0.43"/>
<circle cx="411.2" cy="1006.7" r="12.6" fill="rgb(225, 33, 45)" fill-opacity="0.43"/>
<circle cx="454.6" cy="1010.4" r="2.6" fill="rgb(225, 33, 45)" fill-opacity="0.43"/>
<circle cx="374.5" cy="1021.4" r="13.6" fill="rgb(225, 33, 45)" fill-opacity="0.43"/>
<circle cx="376.6" cy="1029.8" r="9.4" fill="rgb(225, 33, 45)" fill-opacity="0.43"/>
<circle cx="404.9" cy="1026.6" r="11.5" fill="rgb(225, 33, 45)" fill-opacity="0.43"/>
<circle cx="440.4" cy="1035.0" r="6.3" fill="rgb(225, 33, 45)" fill-opacity="0.43"/>
<circle cx="371.4" cy="1045.5" r="11.5" fill="rgb(225, 33, 45)" fill-opacity="0.43"/>
<circle cx="388.1" cy="1041.3" r="9.4" fill="rgb(225, 33, 45)" fill-opacity="0.43"/>
<circle cx="402.8" cy="1039.2" r="13.6" fill="rgb(225, 33, 45)" fill-opacity="0.43"/>
<circle cx="411.2" cy="1043.4" r="10.5" fill="rgb(225, 33, 45)" fill-opacity="0.43"/>
<circle cx="421.6" cy="1042.3" r="7.3" fill="rgb(225, 33, 45)" fill-opacity="0.43"/>
<circle cx="432.1" cy="1051.7" r="10.5" fill="rgb(225, 33, 45)" fill-opacity="0.43"/>
<circle cx="442.5" cy="1049.6" r="7.8" fill="rgb(225, 33, 45)" fill-opacity="0.43"/>
<circle cx="381.9" cy="1063.2" r="10.5" fill="rgb(225, 33, 45)" fill-opacity="0.43"/>
<circle cx="375.6" cy="1055.9" r="6.3" fill="rgb(225, 33, 45)" fill-opacity="0.43"/>
<circle cx="387.1" cy="1057.0" r="6.3" fill="rgb(225, 33, 45)" fill-opacity="0.43"/>
<circle cx="410.1" cy="1054.9" r="8.4" fill="rgb(225, 33, 45)" fill-opacity="0.43"/>
<circle cx="410.1" cy="1075.8" r="10.5" fill="rgb(225, 33, 45)" fill-opacity="0.43"/>
<circle cx="410.1" cy="1082.1" r="8.4" fill="rgb(225, 33, 45)" fill-opacity="0.43"/>
<circle cx="410.1" cy="1089.4" r="12.6" fill="rgb(225, 33, 45)" fill-opacity="0.43"/>
<circle cx="398.6" cy="1028.7" r="5.2" fill="rgb(225, 33, 45)" fill-opacity="0.43"/>
<circle cx="165.6" cy="1158.6" r="7.8" fill="rgb(225, 33, 45)" fill-opacity="0.43"/>
<circle cx="165.1" cy="1162.8" r="9.4" fill="rgb(225, 33, 45)" fill-opacity="0.43"/>
<circle cx="164.5" cy="1170.1" r="14.1" fill="rgb(225, 33, 45)" fill-opacity="0.43"/>
<circle cx="164.0" cy="1169.6" r="6.8" fill="rgb(225, 33, 45)" fill-opacity="0.43"/>
<circle cx="165.6" cy="1179.5" r="6.8" fill="rgb(225, 33, 45)" fill-opacity="0.43"/>
<circle cx="145.2" cy="1182.7" r="14.6" fill="rgb(225, 33, 45)" fill-opacity="0.43"/>
<circle cx="147.3" cy="1191.0" r="11.5" fill="rgb(225, 33, 45)" fill-opacity="0.43"/>
<circle cx="141.0" cy="1199.4" r="8.4" fill="rgb(225, 33, 45)" fill-opacity="0.43"/>
<circle cx="122.2" cy="1207.8" r="14.6" fill="rgb(225, 33, 45)" fill-opacity="0.43"/>
<circle cx="126.3" cy="1213.0" r="15.7" fill="rgb(225, 33, 45)" fill-opacity="0.43"/>
<circle cx="133.7" cy="1210.9" r="8.4" fill="rgb(225, 33, 45)" fill-opacity="0.43"/>
<circle cx="165.1" cy="1196.3" r="9.4" fill="rgb(225, 33, 45)" fill-opacity="0.43"/>
<circle cx="167.2" cy="1207.8" r="11.5" fill="rgb(225, 33, 45)" fill-opacity="0.43"/>
<circle cx="160.9" cy="1220.3" r="12.6" fill="rgb(225, 33, 45)" fill-opacity="0.43"/>
<circle cx="166.1" cy="1217.2" r="13.6" fill="rgb(225, 33, 45)" fill-opacity="0.43"/>
<circle cx="199.6" cy="1205.7" r="15.7" fill="rgb(225, 33, 45)" fill-opacity="0.43"/>
<circle cx="195.4" cy="1206.7" r="11.5" fill="rgb(225, 33, 45)" fill-opacity="0.43"/>
<circle cx="199.6" cy="1209.9" r="7.3" fill="rgb(225, 33, 45)" fill-opacity="0.43"/>
<circle cx="184.9" cy="1206.7" r="9.4" fill="rgb(225, 33, 45)" fill-opacity="0.43"/>
<circle cx="167.2" cy="1236.0" r="8.4" fill="rgb(225, 33, 45)" fill-opacity="0.43"/>
<circle cx="125.8" cy="1237.1" r="4.7" fill="rgb(225, 33, 45)" fill-opacity="0.43"/>
<circle cx="120.1" cy="1242.8" r="3.1" fill="rgb(225, 33, 45)" fill-opacity="0.43"/>
<circle cx="165.1" cy="1255.7" r="11.5" fill="rgb(225, 33, 45)" fill-opacity="0.43"/>
<circle cx="165.1" cy="1254.6" r="8.4" fill="rgb(225, 33, 45)" fill-opacity="0.43"/>
<circle cx="125.8" cy="1259.4" r="6.8" fill="rgb(225, 33, 45)" fill-opacity="0.43"/>
<circle cx="128.4" cy="1279.8" r="17.8" fill="rgb(225, 33, 45)" fill-opacity="0.43"/>
<circle cx="130.5" cy="1279.8" r="11.5" fill="rgb(225, 33, 45)" fill-opacity="0.43"/>
<circle cx="154.1" cy="1286.0" r="10.5" fill="rgb(225, 33, 45)" fill-opacity="0.43"/>
<circle cx="165.1" cy="1277.7" r="4.7" fill="rgb(225, 33, 45)" fill-opacity="0.43"/>
<circle cx="132.1" cy="1302.3" r="5.2" fill="rgb(225, 33, 45)" fill-opacity="0.43"/>
<circle cx="163.5" cy="1304.9" r="13.6" fill="rgb(225, 33, 45)" fill-opacity="0.43"/>
<circle cx="160.9" cy="1302.8" r="10.5" fill="rgb(225, 33, 45)" fill-opacity="0.43"/>
<circle cx="170.3" cy="1315.3" r="5.8" fill="rgb(225, 33, 45)" fill-opacity="0.43"/>
<circle cx="196.5" cy="1285.0" r="6.8" fill="rgb(225, 33, 45)" fill-opacity="0.43"/>
<circle cx="201.7" cy="1294.4" r="13.1" fill="rgb(225, 33, 45)" fill-opacity="0.43"/>
<circle cx="206.9" cy="1290.2" r="4.2" fill="rgb(225, 33, 45)" fill-opacity="0.43"/>
<circle cx="165.6" cy="1331.0" r="7.3" fill="rgb(225, 33, 45)" fill-opacity="0.43"/>
<circle cx="169.2" cy="1329.5" r="4.2" fill="rgb(225, 33, 45)" fill-opacity="0.43"/>
<circle cx="165.6" cy="1339.4" r="6.8" fill="rgb(225, 33, 45)" fill-opacity="0.43"/>
<circle cx="409.6" cy="1159.9" r="13.6" fill="rgb(225, 33, 45)" fill-opacity="0.43"/>
<circle cx="418.5" cy="1165.1" r="11.5" fill="rgb(225, 33, 45)" fill-opacity="0.43"/>
<circle cx="412.2" cy="1171.4" r="8.4" fill="rgb(225, 33, 45)" fill-opacity="0.43"/>
<circle cx="410.1" cy="1180.8" r="11.0" fill="rgb(225, 33, 45)" fill-opacity="0.43"/>
<circle cx="409.6" cy="1181.9" r="5.8" fill="rgb(225, 33, 45)" fill-opacity="0.43"/>
<circle cx="444.6" cy="1187.1" r="9.4" fill="rgb(225, 33, 45)" fill-opacity="0.43"/>
<circle cx="438.4" cy="1196.5" r="11.0" fill="rgb(225, 33, 45)" fill-opacity="0.43"/>
<circle cx="444.6" cy="1205.9" r="13.6" fill="rgb(225, 33, 45)" fill-opacity="0.43"/>
<circle cx="423.7" cy="1197.0" r="6.3" fill="rgb(225, 33, 45)" fill-opacity="0.43"/>
<circle cx="421.6" cy="1202.8" r="5.2" fill="rgb(225, 33, 45)" fill-opacity="0.43"/>
<circle cx="405.9" cy="1204.9" r="11.5" fill="rgb(225, 33, 45)" fill-opacity="0.43"/>
<circle cx="404.4" cy="1213.2" r="7.8" fill="rgb(225, 33, 45)" fill-opacity="0.43"/>
<circle cx="371.4" cy="1215.3" r="16.7" fill="rgb(225, 33, 45)" fill-opacity="0.43"/>
<circle cx="378.7" cy="1208.0" r="11.5" fill="rgb(225, 33, 45)" fill-opacity="0.43"/>
<circle cx="376.6" cy="1217.4" r="10.5" fill="rgb(225, 33, 45)" fill-opacity="0.43"/>
<circle cx="372.4" cy="1232.1" r="4.7" fill="rgb(225, 33, 45)" fill-opacity="0.43"/>
<circle cx="444.6" cy="1222.7" r="6.3" fill="rgb(225, 33, 45)" fill-opacity="0.43"/>
<circle cx="446.7" cy="1229.5" r="6.8" fill="rgb(225, 33, 45)" fill-opacity="0.43"/>
<circle cx="398.1" cy="1230.0" r="2.1" fill="rgb(225, 33, 45)" fill-opacity="0.43"/>
<circle cx="409.6" cy="1241.5" r="6.8" fill="rgb(225, 33, 45)" fill-opacity="0.43"/>
<circle cx="409.6" cy="1244.2" r="6.3" fill="rgb(225, 33, 45)" fill-opacity="0.43"/>
<circle cx="408.0" cy="1257.8" r="7.3" fill="rgb(225, 33, 45)" fill-opacity="0.43"/>
<circle cx="402.8" cy="1256.7" r="5.2" fill="rgb(225, 33, 45)" fill-opacity="0.43"/>
<circle cx="375.6" cy="1279.8" r="14.6" fill="rgb(225, 33, 45)" fill-opacity="0.43"/>
<circle cx="402.8" cy="1275.6" r="14.6" fill="rgb(225, 33, 45)" fill-opacity="0.43"/>
<circle cx="394.4" cy="1290.2" r="14.6" fill="rgb(225, 33, 45)" fill-opacity="0.43"/>
<circle cx="399.6" cy="1285.0" r="14.6" fill="rgb(225, 33, 45)" fill-opacity="0.43"/>
<circle cx="407.0" cy="1294.4" r="12.6" fill="rgb(225, 33, 45)" fill-opacity="0.43"/>
<circle cx="421.6" cy="1289.2" r="9.4" fill="rgb(225, 33, 45)" fill-opacity="0.43"/>
<circle cx="423.7" cy="1292.3" r="6.3" fill="rgb(225, 33, 45)" fill-opacity="0.43"/>
<circle cx="445.7" cy="1276.1" r="9.4" fill="rgb(225, 33, 45)" fill-opacity="0.43"/>
<circle cx="438.9" cy="1291.8" r="5.2" fill="rgb(225, 33, 45)" fill-opacity="0.43"/>
<circle cx="384.0" cy="1298.6" r="9.4" fill="rgb(225, 33, 45)" fill-opacity="0.43"/>
<circle cx="389.2" cy="1308.0" r="11.5" fill="rgb(225, 33, 45)" fill-opacity="0.43"/>
<circle cx="384.0" cy="1321.6" r="8.4" fill="rgb(225, 33, 45)" fill-opacity="0.43"/>
<circle cx="380.8" cy="1323.7" r="5.8" fill="rgb(225, 33, 45)" fill-opacity="0.43"/>
<circle cx="411.2" cy="1326.8" r="11.5" fill="rgb(225, 33, 45)" fill-opacity="0.43"/>
<circle cx="410.1" cy="1338.4" r="12.0" fill="rgb(225, 33, 45)" fill-opacity="0.43"/>
<circle cx="420.6" cy="1322.7" r="2.6" fill="rgb(225, 33, 45)" fill-opacity="0.43"/>
<circle cx="398.6" cy="1302.8" r="10.5" fill="rgb(225, 33, 45)" fill-opacity="0.43"/>
<circle cx="398.0" cy="238.0" r="9.0" fill="rgb(225, 33, 45)" fill-opacity="0.3"/>
<circle cx="428.0" cy="240.0" r="8.0" fill="rgb(225, 33, 45)" fill-opacity="0.3"/>
<circle cx="165.0" cy="990.0" r="13.0" fill="rgb(225, 33, 45)" fill-opacity="0.3"/>
<circle cx="165.0" cy="1000.0" r="13.0" fill="rgb(225, 33, 45)" fill-opacity="0.3"/>
<circle cx="160.0" cy="995.0" r="12.0" fill="rgb(225, 33, 45)" fill-opacity="0.3"/>
<circle cx="170.0" cy="1005.0" r="12.0" fill="rgb(225, 33, 45)" fill-opacity="0.3"/>
<circle cx="160.0" cy="960.0" r="12.0" fill="rgb(225, 33, 45)" fill-opacity="0.3"/>
<circle cx="165.0" cy="970.0" r="11.0" fill="rgb(225, 33, 45)" fill-opacity="0.3"/>
<circle cx="155.0" cy="975.0" r="10.0" fill="rgb(225, 33, 45)" fill-opacity="0.3"/>
<circle cx="130.0" cy="1040.0" r="13.0" fill="rgb(225, 33, 45)" fill-opacity="0.3"/>
<circle cx="145.0" cy="1035.0" r="12.0" fill="rgb(225, 33, 45)" fill-opacity="0.3"/>
<circle cx="160.0" cy="1045.0" r="13.0" fill="rgb(225, 33, 45)" fill-opacity="0.3"/>
<circle cx="175.0" cy="1040.0" r="12.0" fill="rgb(225, 33, 45)" fill-opacity="0.3"/>
<circle cx="150.0" cy="1052.0" r="12.0" fill="rgb(225, 33, 45)" fill-opacity="0.3"/>
<circle cx="190.0" cy="1047.0" r="11.0" fill="rgb(225, 33, 45)" fill-opacity="0.3"/>
<circle cx="200.0" cy="1058.0" r="11.0" fill="rgb(225, 33, 45)" fill-opacity="0.3"/>
<circle cx="165.0" cy="1000.0" r="10.0" fill="rgb(225, 33, 45)" fill-opacity="0.3"/>
<circle cx="395.0" cy="1035.0" r="12.0" fill="rgb(225, 33, 45)" fill-opacity="0.3"/>
<circle cx="405.0" cy="1045.0" r="12.0" fill="rgb(225, 33, 45)" fill-opacity="0.3"/>
<circle cx="390.0" cy="1030.0" r="10.0" fill="rgb(225, 33, 45)" fill-opacity="0.3"/>
<circle cx="400.0" cy="1025.0" r="10.0" fill="rgb(225, 33, 45)" fill-opacity="0.3"/>
<circle cx="385.0" cy="1047.0" r="10.0" fill="rgb(225, 33, 45)" fill-opacity="0.3"/>
<circle cx="412.0" cy="1035.0" r="9.0" fill="rgb(225, 33, 45)" fill-opacity="0.3"/>
<circle cx="405.0" cy="950.0" r="10.0" fill="rgb(225, 33, 45)" fill-opacity="0.3"/>
<circle cx="400.0" cy="940.0" r="9.0" fill="rgb(225, 33, 45)" fill-opacity="0.3"/>
<circle cx="410.0" cy="1000.0" r="9.0" fill="rgb(225, 33, 45)" fill-opacity="0.3"/>
<circle cx="130.0" cy="1210.0" r="12.0" fill="rgb(225, 33, 45)" fill-opacity="0.3"/>
<circle cx="145.0" cy="1200.0" r="10.0" fill="rgb(225, 33, 45)" fill-opacity="0.3"/>
<circle cx="165.0" cy="1210.0" r="11.0" fill="rgb(225, 33, 45)" fill-opacity="0.3"/>
<circle cx="195.0" cy="1208.0" r="10.0" fill="rgb(225, 33, 45)" fill-opacity="0.3"/>
<circle cx="165.0" cy="1252.0" r="10.0" fill="rgb(225, 33, 45)" fill-opacity="0.3"/>
<circle cx="165.0" cy="1258.0" r="8.0" fill="rgb(225, 33, 45)" fill-opacity="0.3"/>
<circle cx="160.0" cy="1300.0" r="10.0" fill="rgb(225, 33, 45)" fill-opacity="0.3"/>
<circle cx="130.0" cy="1280.0" r="12.0" fill="rgb(225, 33, 45)" fill-opacity="0.3"/>
<circle cx="395.0" cy="1285.0" r="13.0" fill="rgb(225, 33, 45)" fill-opacity="0.3"/>
<circle cx="405.0" cy="1290.0" r="12.0" fill="rgb(225, 33, 45)" fill-opacity="0.3"/>
<circle cx="390.0" cy="1295.0" r="11.0" fill="rgb(225, 33, 45)" fill-opacity="0.3"/>
<circle cx="400.0" cy="1278.0" r="12.0" fill="rgb(225, 33, 45)" fill-opacity="0.3"/>
<circle cx="385.0" cy="1305.0" r="10.0" fill="rgb(225, 33, 45)" fill-opacity="0.3"/>
<circle cx="410.0" cy="1250.0" r="8.0" fill="rgb(225, 33, 45)" fill-opacity="0.3"/>
<circle cx="376.0" cy="1212.0" r="12.0" fill="rgb(225, 33, 45)" fill-opacity="0.3"/>
<circle cx="440.0" cy="1200.0" r="10.0" fill="rgb(225, 33, 45)" fill-opacity="0.3"/>
<circle cx="160.0" cy="480.0" r="11.0" fill="rgb(225, 33, 45)" fill-opacity="0.3"/>
<circle cx="130.0" cy="490.0" r="10.0" fill="rgb(225, 33, 45)" fill-opacity="0.3"/>
<circle cx="408.0" cy="478.0" r="10.0" fill="rgb(225, 33, 45)" fill-opacity="0.3"/>
<circle cx="378.0" cy="475.0" r="10.0" fill="rgb(225, 33, 45)" fill-opacity="0.3"/>
<circle cx="160.0" cy="568.0" r="10.0" fill="rgb(225, 33, 45)" fill-opacity="0.3"/>
<circle cx="135.0" cy="558.0" r="9.0" fill="rgb(225, 33, 45)" fill-opacity="0.3"/>
<line x1="487.3" y1="603.3" x2="513.1" y2="603.3" stroke="#000" stroke-width="2.2"/>
<line x1="487.3" y1="598.3" x2="487.3" y2="608.3" stroke="#000" stroke-width="2.2"/>
<line x1="513.1" y1="598.3" x2="513.1" y2="608.3" stroke="#000" stroke-width="2.2"/>
<text transform="translate(500.2 628.7) scale(1 1.035)" font-size="23.2" font-weight="normal" text-anchor="middle" fill="#000" stroke="#000" stroke-width="0.35">25nm</text>
<line x1="479.8" y1="1316.9" x2="505.6" y2="1316.9" stroke="#000" stroke-width="2.2"/>
<line x1="479.8" y1="1311.9" x2="479.8" y2="1321.9" stroke="#000" stroke-width="2.2"/>
<line x1="505.6" y1="1311.9" x2="505.6" y2="1321.9" stroke="#000" stroke-width="2.2"/>
<text transform="translate(492.6 1342.3) scale(1 1.035)" font-size="23.2" font-weight="normal" text-anchor="middle" fill="#000" stroke="#000" stroke-width="0.35">25nm</text>
<line x1="642.0" y1="124.60000000000008" x2="651.5" y2="124.60000000000008" stroke="#000" stroke-width="2.7"/>
<line x1="646.3" y1="189.20000000000005" x2="651.5" y2="189.20000000000005" stroke="#000" stroke-width="2.7"/>
<line x1="642.0" y1="253.80000000000007" x2="651.5" y2="253.80000000000007" stroke="#000" stroke-width="2.7"/>
<line x1="646.3" y1="318.4000000000001" x2="651.5" y2="318.4000000000001" stroke="#000" stroke-width="2.7"/>
<line x1="642.0" y1="383.00000000000006" x2="651.5" y2="383.00000000000006" stroke="#000" stroke-width="2.7"/>
<line x1="646.3" y1="447.6" x2="651.5" y2="447.6" stroke="#000" stroke-width="2.7"/>
<line x1="642.0" y1="512.2" x2="651.5" y2="512.2" stroke="#000" stroke-width="2.7"/>
<line x1="646.3" y1="576.8000000000001" x2="651.5" y2="576.8000000000001" stroke="#000" stroke-width="2.7"/>
<text transform="translate(630.5 124.60000000000008) rotate(-90) scale(1 1.035)" font-size="27" font-weight="normal" text-anchor="middle" fill="#000" stroke="#000" stroke-width="0.35">12</text>
<text transform="translate(630.5 253.80000000000007) rotate(-90) scale(1 1.035)" font-size="27" font-weight="normal" text-anchor="middle" fill="#000" stroke="#000" stroke-width="0.35">8</text>
<text transform="translate(630.5 383.00000000000006) rotate(-90) scale(1 1.035)" font-size="27" font-weight="normal" text-anchor="middle" fill="#000" stroke="#000" stroke-width="0.35">4</text>
<text transform="translate(630.5 512.2) rotate(-90) scale(1 1.035)" font-size="27" font-weight="normal" text-anchor="middle" fill="#000" stroke="#000" stroke-width="0.35">0</text>
<line x1="691.3" y1="576.7" x2="691.3" y2="586.2" stroke="#000" stroke-width="2.7"/>
<line x1="771.5" y1="576.7" x2="771.5" y2="586.2" stroke="#000" stroke-width="2.7"/>
<rect x="651.5" y="124.4" width="160.79999999999995" height="452.30000000000007" fill="none" stroke="#000" stroke-width="2.7"/>
<text transform="translate(691.3 618.7) scale(1 1.035)" font-size="31.9" font-weight="normal" text-anchor="middle" fill="#000" stroke="#000" stroke-width="0.35">NT</text>
<text transform="translate(771.5 618.7) scale(1 1.035)" font-size="31.9" font-weight="normal" text-anchor="middle" fill="#000" stroke="#000" stroke-width="0.35">PDS</text>
<text transform="translate(731.5 109.7) scale(1 1.035)" font-size="32.3" font-weight="bold" text-anchor="middle" fill="#000">siCTRL</text>
<text transform="translate(591.6 356.9) rotate(-90) scale(1 1.035)" font-size="32.1" font-weight="normal" text-anchor="middle" fill="#000" stroke="#000" stroke-width="0.35">RPA at All-Replisomes (norm.)</text>
<text transform="translate(770.8 155.7) scale(1 1.035)" font-size="23.4" font-weight="normal" text-anchor="middle" fill="#000" stroke="#000" stroke-width="0.35">2E-3</text>
<rect x="664.5" y="444.9" width="53.89999999999998" height="70.70000000000005" fill="none" stroke="rgb(85,85,85)" stroke-width="2.0"/>
<rect x="744.8" y="331.1" width="54.200000000000045" height="186.60000000000002" fill="none" stroke="rgb(85,85,85)" stroke-width="2.0"/>
<circle cx="690.2" cy="395.8" r="5.6" fill="rgb(75,75,75)" fill-opacity="0.667"/>
<circle cx="700.1" cy="396.8" r="5.6" fill="rgb(75,75,75)" fill-opacity="0.667"/>
<circle cx="689.2" cy="421.1" r="5.6" fill="rgb(75,75,75)" fill-opacity="0.667"/>
<circle cx="687.5" cy="428.0" r="5.6" fill="rgb(75,75,75)" fill-opacity="0.667"/>
<circle cx="693.2" cy="444.4" r="5.6" fill="rgb(75,75,75)" fill-opacity="0.667"/>
<circle cx="688.5" cy="448.8" r="5.6" fill="rgb(75,75,75)" fill-opacity="0.667"/>
<circle cx="686.7" cy="463.7" r="5.6" fill="rgb(75,75,75)" fill-opacity="0.667"/>
<circle cx="691.7" cy="467.1" r="5.6" fill="rgb(75,75,75)" fill-opacity="0.667"/>
<circle cx="699.6" cy="476.5" r="5.6" fill="rgb(75,75,75)" fill-opacity="0.667"/>
<circle cx="701.6" cy="480.0" r="5.6" fill="rgb(75,75,75)" fill-opacity="0.667"/>
<circle cx="690.7" cy="486.4" r="5.6" fill="rgb(75,75,75)" fill-opacity="0.667"/>
<circle cx="689.7" cy="487.9" r="5.6" fill="rgb(75,75,75)" fill-opacity="0.667"/>
<circle cx="688.7" cy="495.8" r="5.6" fill="rgb(75,75,75)" fill-opacity="0.667"/>
<circle cx="686.7" cy="501.8" r="5.6" fill="rgb(75,75,75)" fill-opacity="0.667"/>
<circle cx="689.7" cy="500.3" r="5.6" fill="rgb(75,75,75)" fill-opacity="0.667"/>
<circle cx="692.7" cy="504.8" r="5.6" fill="rgb(75,75,75)" fill-opacity="0.667"/>
<circle cx="698.6" cy="507.2" r="5.6" fill="rgb(75,75,75)" fill-opacity="0.667"/>
<circle cx="683.8" cy="509.7" r="5.6" fill="rgb(75,75,75)" fill-opacity="0.667"/>
<circle cx="687.7" cy="508.7" r="5.6" fill="rgb(75,75,75)" fill-opacity="0.667"/>
<circle cx="685.7" cy="511.7" r="5.6" fill="rgb(75,75,75)" fill-opacity="0.667"/>
<circle cx="689.7" cy="506.7" r="5.6" fill="rgb(75,75,75)" fill-opacity="0.667"/>
<circle cx="684.8" cy="503.8" r="5.6" fill="rgb(75,75,75)" fill-opacity="0.667"/>
<circle cx="766.7" cy="180.6" r="5.6" fill="rgb(225,33,45)" fill-opacity="0.667"/>
<circle cx="770.2" cy="222.1" r="5.6" fill="rgb(225,33,45)" fill-opacity="0.667"/>
<circle cx="774.0" cy="258.9" r="5.6" fill="rgb(225,33,45)" fill-opacity="0.667"/>
<circle cx="765.0" cy="263.1" r="5.6" fill="rgb(225,33,45)" fill-opacity="0.667"/>
<circle cx="769.0" cy="286.3" r="5.6" fill="rgb(225,33,45)" fill-opacity="0.667"/>
<circle cx="766.7" cy="335.0" r="5.6" fill="rgb(225,33,45)" fill-opacity="0.667"/>
<circle cx="772.5" cy="341.5" r="5.6" fill="rgb(225,33,45)" fill-opacity="0.667"/>
<circle cx="762.3" cy="360.4" r="5.6" fill="rgb(225,33,45)" fill-opacity="0.667"/>
<circle cx="770.0" cy="367.3" r="5.6" fill="rgb(225,33,45)" fill-opacity="0.667"/>
<circle cx="769.0" cy="378.7" r="5.6" fill="rgb(225,33,45)" fill-opacity="0.667"/>
<circle cx="771.5" cy="384.2" r="5.6" fill="rgb(225,33,45)" fill-opacity="0.667"/>
<circle cx="770.5" cy="432.9" r="5.6" fill="rgb(225,33,45)" fill-opacity="0.667"/>
<circle cx="774.2" cy="432.9" r="5.6" fill="rgb(225,33,45)" fill-opacity="0.667"/>
<circle cx="778.6" cy="434.7" r="5.6" fill="rgb(225,33,45)" fill-opacity="0.667"/>
<circle cx="772.7" cy="438.1" r="5.6" fill="rgb(225,33,45)" fill-opacity="0.667"/>
<circle cx="774.5" cy="454.5" r="5.6" fill="rgb(225,33,45)" fill-opacity="0.667"/>
<circle cx="776.9" cy="459.4" r="5.6" fill="rgb(225,33,45)" fill-opacity="0.667"/>
<circle cx="777.2" cy="475.3" r="5.6" fill="rgb(225,33,45)" fill-opacity="0.667"/>
<circle cx="782.4" cy="476.8" r="5.6" fill="rgb(225,33,45)" fill-opacity="0.667"/>
<circle cx="769.7" cy="482.0" r="5.6" fill="rgb(225,33,45)" fill-opacity="0.667"/>
<circle cx="760.8" cy="488.7" r="5.6" fill="rgb(225,33,45)" fill-opacity="0.667"/>
<circle cx="766.0" cy="486.4" r="5.6" fill="rgb(225,33,45)" fill-opacity="0.667"/>
<circle cx="771.2" cy="490.9" r="5.6" fill="rgb(225,33,45)" fill-opacity="0.667"/>
<circle cx="762.3" cy="494.6" r="5.6" fill="rgb(225,33,45)" fill-opacity="0.667"/>
<circle cx="767.5" cy="493.9" r="5.6" fill="rgb(225,33,45)" fill-opacity="0.667"/>
<circle cx="772.0" cy="495.4" r="5.6" fill="rgb(225,33,45)" fill-opacity="0.667"/>
<circle cx="765.3" cy="498.3" r="5.6" fill="rgb(225,33,45)" fill-opacity="0.667"/>
<circle cx="766.7" cy="507.2" r="5.6" fill="rgb(225,33,45)" fill-opacity="0.667"/>
<circle cx="775.7" cy="506.5" r="5.6" fill="rgb(225,33,45)" fill-opacity="0.667"/>
<circle cx="766.7" cy="511.7" r="5.6" fill="rgb(225,33,45)" fill-opacity="0.667"/>
<circle cx="769.7" cy="508.7" r="5.6" fill="rgb(225,33,45)" fill-opacity="0.667"/>
<circle cx="763.8" cy="490.2" r="5.6" fill="rgb(225,33,45)" fill-opacity="0.667"/>
<rect x="661" y="477.09999999999997" width="61.200000000000045" height="6.6" fill="#000"/>
<rect x="741.2" y="421.09999999999997" width="61.19999999999993" height="6.6" fill="#000"/>
<line x1="853.3" y1="124.38" x2="862.8" y2="124.38" stroke="#000" stroke-width="2.7"/>
<line x1="857.5999999999999" y1="188.5" x2="862.8" y2="188.5" stroke="#000" stroke-width="2.7"/>
<line x1="853.3" y1="252.62" x2="862.8" y2="252.62" stroke="#000" stroke-width="2.7"/>
<line x1="857.5999999999999" y1="316.74" x2="862.8" y2="316.74" stroke="#000" stroke-width="2.7"/>
<line x1="853.3" y1="380.86" x2="862.8" y2="380.86" stroke="#000" stroke-width="2.7"/>
<line x1="857.5999999999999" y1="444.98" x2="862.8" y2="444.98" stroke="#000" stroke-width="2.7"/>
<line x1="853.3" y1="509.1" x2="862.8" y2="509.1" stroke="#000" stroke-width="2.7"/>
<line x1="857.5999999999999" y1="573.22" x2="862.8" y2="573.22" stroke="#000" stroke-width="2.7"/>
<text transform="translate(841.4 123.96000000000004) rotate(-90) scale(1 1.035)" font-size="27" font-weight="normal" text-anchor="middle" fill="#000" stroke="#000" stroke-width="0.35">12</text>
<text transform="translate(841.4 253.44) rotate(-90) scale(1 1.035)" font-size="27" font-weight="normal" text-anchor="middle" fill="#000" stroke="#000" stroke-width="0.35">8</text>
<text transform="translate(841.4 382.91999999999996) rotate(-90) scale(1 1.035)" font-size="27" font-weight="normal" text-anchor="middle" fill="#000" stroke="#000" stroke-width="0.35">4</text>
<text transform="translate(841.4 512.4) rotate(-90) scale(1 1.035)" font-size="27" font-weight="normal" text-anchor="middle" fill="#000" stroke="#000" stroke-width="0.35">0</text>
<line x1="902.5" y1="573.2" x2="902.5" y2="582.7" stroke="#000" stroke-width="2.7"/>
<line x1="983.3" y1="573.2" x2="983.3" y2="582.7" stroke="#000" stroke-width="2.7"/>
<rect x="862.8" y="124.4" width="160.70000000000005" height="448.80000000000007" fill="none" stroke="#000" stroke-width="2.7"/>
<text transform="translate(902.5 618.7) scale(1 1.035)" font-size="31.9" font-weight="normal" text-anchor="middle" fill="#000" stroke="#000" stroke-width="0.35">NT</text>
<text transform="translate(983.3 618.7) scale(1 1.035)" font-size="31.9" font-weight="normal" text-anchor="middle" fill="#000" stroke="#000" stroke-width="0.35">PDS</text>
<text transform="translate(941.5 110) scale(1 1.035)" font-size="32.3" font-weight="bold" text-anchor="middle" fill="#000">siFANCJ</text>
<text transform="translate(981.9 396.3) scale(1 1.035)" font-size="23.4" font-weight="normal" text-anchor="middle" fill="#000" stroke="#000" stroke-width="0.35">NS</text>
<rect x="875.3" y="450.4" width="54.200000000000045" height="54.5" fill="rgb(136,136,136)" stroke="rgb(40,40,40)" stroke-width="2.0"/>
<rect x="956.4" y="454" width="53.60000000000002" height="52.69999999999999" fill="rgb(136,136,136)" stroke="rgb(40,40,40)" stroke-width="2.0"/>
<circle cx="902.9" cy="415.9" r="5.2" fill="#fff" stroke="rgb(100,102,101)" stroke-width="2.6"/>
<circle cx="896.0" cy="423.6" r="5.2" fill="#fff" stroke="rgb(100,102,101)" stroke-width="2.6"/>
<circle cx="904.1" cy="424.4" r="5.2" fill="#fff" stroke="rgb(100,102,101)" stroke-width="2.6"/>
<circle cx="897.6" cy="427.6" r="5.2" fill="#fff" stroke="rgb(100,102,101)" stroke-width="2.6"/>
<circle cx="894.4" cy="441.5" r="5.2" fill="#fff" stroke="rgb(100,102,101)" stroke-width="2.6"/>
<circle cx="913.1" cy="442.3" r="5.2" fill="#fff" stroke="rgb(100,102,101)" stroke-width="2.6"/>
<circle cx="906.6" cy="444.3" r="5.2" fill="#fff" stroke="rgb(100,102,101)" stroke-width="2.6"/>
<circle cx="903.3" cy="451.6" r="5.2" fill="#fff" stroke="rgb(100,102,101)" stroke-width="2.6"/>
<circle cx="892.8" cy="459.3" r="5.2" fill="#fff" stroke="rgb(100,102,101)" stroke-width="2.6"/>
<circle cx="911.1" cy="459.3" r="5.2" fill="#fff" stroke="rgb(100,102,101)" stroke-width="2.6"/>
<circle cx="901.7" cy="467.1" r="5.2" fill="#fff" stroke="rgb(100,102,101)" stroke-width="2.6"/>
<circle cx="896.0" cy="467.9" r="5.2" fill="#fff" stroke="rgb(100,102,101)" stroke-width="2.6"/>
<circle cx="906.6" cy="471.5" r="5.2" fill="#fff" stroke="rgb(100,102,101)" stroke-width="2.6"/>
<circle cx="906.6" cy="482.1" r="5.2" fill="#fff" stroke="rgb(100,102,101)" stroke-width="2.6"/>
<circle cx="896.8" cy="491.1" r="5.2" fill="#fff" stroke="rgb(100,102,101)" stroke-width="2.6"/>
<circle cx="910.7" cy="491.9" r="5.2" fill="#fff" stroke="rgb(100,102,101)" stroke-width="2.6"/>
<circle cx="892.8" cy="493.5" r="5.2" fill="#fff" stroke="rgb(100,102,101)" stroke-width="2.6"/>
<circle cx="894.4" cy="505.7" r="5.2" fill="#fff" stroke="rgb(100,102,101)" stroke-width="2.6"/>
<circle cx="904.1" cy="506.5" r="5.2" fill="#fff" stroke="rgb(100,102,101)" stroke-width="2.6"/>
<circle cx="891.1" cy="510.6" r="5.2" fill="#fff" stroke="rgb(100,102,101)" stroke-width="2.6"/>
<circle cx="900.9" cy="504.9" r="5.2" fill="#fff" stroke="rgb(100,102,101)" stroke-width="2.6"/>
<circle cx="892.8" cy="486.2" r="5.2" fill="#fff" stroke="rgb(100,102,101)" stroke-width="2.6"/>
<circle cx="902.5" cy="488.6" r="5.2" fill="#fff" stroke="rgb(100,102,101)" stroke-width="2.6"/>
<circle cx="900.0" cy="447.0" r="5.2" fill="#fff" stroke="rgb(100,102,101)" stroke-width="2.6"/>
<circle cx="906.0" cy="455.0" r="5.2" fill="#fff" stroke="rgb(100,102,101)" stroke-width="2.6"/>
<circle cx="898.0" cy="463.0" r="5.2" fill="#fff" stroke="rgb(100,102,101)" stroke-width="2.6"/>
<circle cx="903.0" cy="475.0" r="5.2" fill="#fff" stroke="rgb(100,102,101)" stroke-width="2.6"/>
<circle cx="899.0" cy="484.0" r="5.2" fill="#fff" stroke="rgb(100,102,101)" stroke-width="2.6"/>
<circle cx="907.0" cy="498.0" r="5.2" fill="#fff" stroke="rgb(100,102,101)" stroke-width="2.6"/>
<circle cx="897.0" cy="500.0" r="5.2" fill="#fff" stroke="rgb(100,102,101)" stroke-width="2.6"/>
<circle cx="980.1" cy="423.8" r="5.2" fill="#fff" stroke="rgb(232,62,72)" stroke-width="2.6"/>
<circle cx="991.6" cy="423.8" r="5.2" fill="#fff" stroke="rgb(232,62,72)" stroke-width="2.6"/>
<circle cx="981.4" cy="434.8" r="5.2" fill="#fff" stroke="rgb(232,62,72)" stroke-width="2.6"/>
<circle cx="988.6" cy="435.6" r="5.2" fill="#fff" stroke="rgb(232,62,72)" stroke-width="2.6"/>
<circle cx="981.0" cy="444.1" r="5.2" fill="#fff" stroke="rgb(232,62,72)" stroke-width="2.6"/>
<circle cx="990.3" cy="449.6" r="5.2" fill="#fff" stroke="rgb(232,62,72)" stroke-width="2.6"/>
<circle cx="981.8" cy="455.6" r="5.2" fill="#fff" stroke="rgb(232,62,72)" stroke-width="2.6"/>
<circle cx="979.3" cy="461.1" r="5.2" fill="#fff" stroke="rgb(232,62,72)" stroke-width="2.6"/>
<circle cx="984.4" cy="464.9" r="5.2" fill="#fff" stroke="rgb(232,62,72)" stroke-width="2.6"/>
<circle cx="976.3" cy="471.3" r="5.2" fill="#fff" stroke="rgb(232,62,72)" stroke-width="2.6"/>
<circle cx="978.0" cy="486.5" r="5.2" fill="#fff" stroke="rgb(232,62,72)" stroke-width="2.6"/>
<circle cx="983.9" cy="492.1" r="5.2" fill="#fff" stroke="rgb(232,62,72)" stroke-width="2.6"/>
<circle cx="992.0" cy="492.1" r="5.2" fill="#fff" stroke="rgb(232,62,72)" stroke-width="2.6"/>
<circle cx="972.9" cy="498.4" r="5.2" fill="#fff" stroke="rgb(232,62,72)" stroke-width="2.6"/>
<circle cx="984.8" cy="499.3" r="5.2" fill="#fff" stroke="rgb(232,62,72)" stroke-width="2.6"/>
<circle cx="971.6" cy="507.8" r="5.2" fill="#fff" stroke="rgb(232,62,72)" stroke-width="2.6"/>
<circle cx="980.5" cy="507.8" r="5.2" fill="#fff" stroke="rgb(232,62,72)" stroke-width="2.6"/>
<circle cx="987.3" cy="507.8" r="5.2" fill="#fff" stroke="rgb(232,62,72)" stroke-width="2.6"/>
<circle cx="978.0" cy="489.9" r="5.2" fill="#fff" stroke="rgb(232,62,72)" stroke-width="2.6"/>
<circle cx="989.0" cy="489.1" r="5.2" fill="#fff" stroke="rgb(232,62,72)" stroke-width="2.6"/>
<circle cx="985.6" cy="505.2" r="5.2" fill="#fff" stroke="rgb(232,62,72)" stroke-width="2.6"/>
<circle cx="983.0" cy="440.0" r="5.2" fill="#fff" stroke="rgb(232,62,72)" stroke-width="2.6"/>
<circle cx="978.0" cy="452.0" r="5.2" fill="#fff" stroke="rgb(232,62,72)" stroke-width="2.6"/>
<circle cx="986.0" cy="470.0" r="5.2" fill="#fff" stroke="rgb(232,62,72)" stroke-width="2.6"/>
<circle cx="980.0" cy="478.0" r="5.2" fill="#fff" stroke="rgb(232,62,72)" stroke-width="2.6"/>
<circle cx="988.0" cy="497.0" r="5.2" fill="#fff" stroke="rgb(232,62,72)" stroke-width="2.6"/>
<circle cx="976.0" cy="503.0" r="5.2" fill="#fff" stroke="rgb(232,62,72)" stroke-width="2.6"/>
<rect x="872" y="473.9" width="61.39999999999998" height="6.6" fill="#000"/>
<rect x="952.4" y="476.9" width="61.39999999999998" height="6.6" fill="#000"/>
<line x1="646.1999999999999" y1="840.75" x2="651.4" y2="840.75" stroke="#000" stroke-width="2.7"/>
<line x1="641.9" y1="916.0" x2="651.4" y2="916.0" stroke="#000" stroke-width="2.7"/>
<line x1="646.1999999999999" y1="991.25" x2="651.4" y2="991.25" stroke="#000" stroke-width="2.7"/>
<line x1="641.9" y1="1066.5" x2="651.4" y2="1066.5" stroke="#000" stroke-width="2.7"/>
<line x1="646.1999999999999" y1="1141.75" x2="651.4" y2="1141.75" stroke="#000" stroke-width="2.7"/>
<line x1="641.9" y1="1217.0" x2="651.4" y2="1217.0" stroke="#000" stroke-width="2.7"/>
<line x1="646.1999999999999" y1="1292.25" x2="651.4" y2="1292.25" stroke="#000" stroke-width="2.7"/>
<text transform="translate(630.5 916.0) rotate(-90) scale(1 1.035)" font-size="27" font-weight="normal" text-anchor="middle" fill="#000" stroke="#000" stroke-width="0.35">4</text>
<text transform="translate(630.5 1066.5) rotate(-90) scale(1 1.035)" font-size="27" font-weight="normal" text-anchor="middle" fill="#000" stroke="#000" stroke-width="0.35">2</text>
<text transform="translate(630.5 1217.0) rotate(-90) scale(1 1.035)" font-size="27" font-weight="normal" text-anchor="middle" fill="#000" stroke="#000" stroke-width="0.35">0</text>
<line x1="691.1" y1="1292.6" x2="691.1" y2="1302.1" stroke="#000" stroke-width="2.7"/>
<line x1="771.8" y1="1292.6" x2="771.8" y2="1302.1" stroke="#000" stroke-width="2.7"/>
<rect x="651.4" y="840.8" width="160.89999999999998" height="451.79999999999995" fill="none" stroke="#000" stroke-width="2.7"/>
<text transform="translate(691.1 1333.5) scale(1 1.035)" font-size="31.9" font-weight="normal" text-anchor="middle" fill="#000" stroke="#000" stroke-width="0.35">NT</text>
<text transform="translate(771.8 1333.5) scale(1 1.035)" font-size="31.9" font-weight="normal" text-anchor="middle" fill="#000" stroke="#000" stroke-width="0.35">PDS</text>
<text transform="translate(731.5 824.4) scale(1 1.035)" font-size="32.3" font-weight="bold" text-anchor="middle" fill="#000">siCTRL</text>
<text transform="translate(590.8 1072.3) rotate(-90) scale(1 1.035)" font-size="32.1" font-weight="normal" text-anchor="middle" fill="#000" stroke="#000" stroke-width="0.35">RPA at G4-Replisomes (norm.)</text>
<text transform="translate(771.1 1004.7) scale(1 1.035)" font-size="23.4" font-weight="normal" text-anchor="middle" fill="#000" stroke="#000" stroke-width="0.35">NS</text>
<rect x="664.5" y="1068.8" width="53.89999999999998" height="146.29999999999995" fill="none" stroke="rgb(85,85,85)" stroke-width="2.0"/>
<rect x="744.7" y="1104" width="54.39999999999998" height="97.29999999999995" fill="none" stroke="rgb(85,85,85)" stroke-width="2.0"/>
<circle cx="683.8" cy="979.1" r="5.6" fill="rgb(75,75,75)" fill-opacity="0.667"/>
<circle cx="692.5" cy="980.3" r="5.6" fill="rgb(75,75,75)" fill-opacity="0.667"/>
<circle cx="696.8" cy="990.9" r="5.6" fill="rgb(75,75,75)" fill-opacity="0.667"/>
<circle cx="686.2" cy="1010.3" r="5.6" fill="rgb(75,75,75)" fill-opacity="0.667"/>
<circle cx="691.9" cy="1007.0" r="5.6" fill="rgb(75,75,75)" fill-opacity="0.667"/>
<circle cx="696.1" cy="1009.0" r="5.6" fill="rgb(75,75,75)" fill-opacity="0.667"/>
<circle cx="689.7" cy="1009.5" r="5.6" fill="rgb(75,75,75)" fill-opacity="0.667"/>
<circle cx="687.2" cy="1020.4" r="5.6" fill="rgb(75,75,75)" fill-opacity="0.667"/>
<circle cx="686.2" cy="1022.9" r="5.6" fill="rgb(75,75,75)" fill-opacity="0.667"/>
<circle cx="689.9" cy="1035.7" r="5.6" fill="rgb(75,75,75)" fill-opacity="0.667"/>
<circle cx="698.4" cy="1057.5" r="5.6" fill="rgb(75,75,75)" fill-opacity="0.667"/>
<circle cx="690.2" cy="1068.7" r="5.6" fill="rgb(75,75,75)" fill-opacity="0.667"/>
<circle cx="694.7" cy="1069.9" r="5.6" fill="rgb(75,75,75)" fill-opacity="0.667"/>
<circle cx="687.7" cy="1082.3" r="5.6" fill="rgb(75,75,75)" fill-opacity="0.667"/>
<circle cx="690.2" cy="1083.3" r="5.6" fill="rgb(75,75,75)" fill-opacity="0.667"/>
<circle cx="699.6" cy="1089.7" r="5.6" fill="rgb(75,75,75)" fill-opacity="0.667"/>
<circle cx="700.6" cy="1095.1" r="5.6" fill="rgb(75,75,75)" fill-opacity="0.667"/>
<circle cx="700.6" cy="1095.4" r="5.6" fill="rgb(75,75,75)" fill-opacity="0.667"/>
<circle cx="700.4" cy="1104.4" r="5.6" fill="rgb(75,75,75)" fill-opacity="0.667"/>
<circle cx="696.1" cy="1117.7" r="5.6" fill="rgb(75,75,75)" fill-opacity="0.667"/>
<circle cx="694.2" cy="1118.7" r="5.6" fill="rgb(75,75,75)" fill-opacity="0.667"/>
<circle cx="687.5" cy="1125.8" r="5.6" fill="rgb(75,75,75)" fill-opacity="0.667"/>
<circle cx="691.7" cy="1147.9" r="5.6" fill="rgb(75,75,75)" fill-opacity="0.667"/>
<circle cx="688.2" cy="1153.4" r="5.6" fill="rgb(75,75,75)" fill-opacity="0.667"/>
<circle cx="691.2" cy="1155.5" r="5.6" fill="rgb(75,75,75)" fill-opacity="0.667"/>
<circle cx="684.8" cy="1167.7" r="5.6" fill="rgb(75,75,75)" fill-opacity="0.667"/>
<circle cx="683.3" cy="1174.7" r="5.6" fill="rgb(75,75,75)" fill-opacity="0.667"/>
<circle cx="692.2" cy="1170.7" r="5.6" fill="rgb(75,75,75)" fill-opacity="0.667"/>
<circle cx="695.1" cy="1175.6" r="5.6" fill="rgb(75,75,75)" fill-opacity="0.667"/>
<circle cx="692.7" cy="1179.1" r="5.6" fill="rgb(75,75,75)" fill-opacity="0.667"/>
<circle cx="680.8" cy="1189.0" r="5.6" fill="rgb(75,75,75)" fill-opacity="0.667"/>
<circle cx="689.7" cy="1187.0" r="5.6" fill="rgb(75,75,75)" fill-opacity="0.667"/>
<circle cx="699.6" cy="1187.5" r="5.6" fill="rgb(75,75,75)" fill-opacity="0.667"/>
<circle cx="689.7" cy="1193.0" r="5.6" fill="rgb(75,75,75)" fill-opacity="0.667"/>
<circle cx="689.7" cy="1197.9" r="5.6" fill="rgb(75,75,75)" fill-opacity="0.667"/>
<circle cx="679.8" cy="1204.9" r="5.6" fill="rgb(75,75,75)" fill-opacity="0.667"/>
<circle cx="686.7" cy="1203.9" r="5.6" fill="rgb(75,75,75)" fill-opacity="0.667"/>
<circle cx="699.6" cy="1202.9" r="5.6" fill="rgb(75,75,75)" fill-opacity="0.667"/>
<circle cx="693.7" cy="1203.9" r="5.6" fill="rgb(75,75,75)" fill-opacity="0.667"/>
<circle cx="683.8" cy="1215.7" r="5.6" fill="rgb(75,75,75)" fill-opacity="0.667"/>
<circle cx="690.7" cy="1215.7" r="5.6" fill="rgb(75,75,75)" fill-opacity="0.667"/>
<circle cx="698.6" cy="1217.2" r="5.6" fill="rgb(75,75,75)" fill-opacity="0.667"/>
<circle cx="707.5" cy="1214.8" r="5.6" fill="rgb(75,75,75)" fill-opacity="0.667"/>
<circle cx="694.7" cy="1214.8" r="5.6" fill="rgb(75,75,75)" fill-opacity="0.667"/>
<circle cx="686.7" cy="1208.8" r="5.6" fill="rgb(75,75,75)" fill-opacity="0.667"/>
<circle cx="695.6" cy="1208.8" r="5.6" fill="rgb(75,75,75)" fill-opacity="0.667"/>
<circle cx="691.7" cy="1184.1" r="5.6" fill="rgb(75,75,75)" fill-opacity="0.667"/>
<circle cx="688.7" cy="1190.0" r="5.6" fill="rgb(75,75,75)" fill-opacity="0.667"/>
<circle cx="692.7" cy="1199.9" r="5.6" fill="rgb(75,75,75)" fill-opacity="0.667"/>
<circle cx="684.8" cy="1201.9" r="5.6" fill="rgb(75,75,75)" fill-opacity="0.667"/>
<circle cx="687.7" cy="1148.4" r="5.6" fill="rgb(75,75,75)" fill-opacity="0.667"/>
<circle cx="693.0" cy="1181.0" r="5.6" fill="rgb(75,75,75)" fill-opacity="0.667"/>
<circle cx="697.0" cy="1186.0" r="5.6" fill="rgb(75,75,75)" fill-opacity="0.667"/>
<circle cx="694.0" cy="1195.0" r="5.6" fill="rgb(75,75,75)" fill-opacity="0.667"/>
<circle cx="688.0" cy="1200.0" r="5.6" fill="rgb(75,75,75)" fill-opacity="0.667"/>
<circle cx="691.0" cy="1206.0" r="5.6" fill="rgb(75,75,75)" fill-opacity="0.667"/>
<circle cx="696.0" cy="1210.0" r="5.6" fill="rgb(75,75,75)" fill-opacity="0.667"/>
<circle cx="684.0" cy="1196.0" r="5.6" fill="rgb(75,75,75)" fill-opacity="0.667"/>
<circle cx="690.0" cy="1160.0" r="5.6" fill="rgb(75,75,75)" fill-opacity="0.667"/>
<circle cx="686.0" cy="1178.0" r="5.6" fill="rgb(75,75,75)" fill-opacity="0.667"/>
<circle cx="695.0" cy="1165.0" r="5.6" fill="rgb(75,75,75)" fill-opacity="0.667"/>
<circle cx="773.5" cy="1036.1" r="5.6" fill="rgb(225,33,45)" fill-opacity="0.667"/>
<circle cx="766.7" cy="1043.8" r="5.6" fill="rgb(225,33,45)" fill-opacity="0.667"/>
<circle cx="769.7" cy="1040.8" r="5.6" fill="rgb(225,33,45)" fill-opacity="0.667"/>
<circle cx="774.4" cy="1042.1" r="5.6" fill="rgb(225,33,45)" fill-opacity="0.667"/>
<circle cx="770.7" cy="1062.4" r="5.6" fill="rgb(225,33,45)" fill-opacity="0.667"/>
<circle cx="768.4" cy="1079.4" r="5.6" fill="rgb(225,33,45)" fill-opacity="0.667"/>
<circle cx="773.1" cy="1080.7" r="5.6" fill="rgb(225,33,45)" fill-opacity="0.667"/>
<circle cx="771.0" cy="1082.8" r="5.6" fill="rgb(225,33,45)" fill-opacity="0.667"/>
<circle cx="769.7" cy="1098.5" r="5.6" fill="rgb(225,33,45)" fill-opacity="0.667"/>
<circle cx="774.8" cy="1101.5" r="5.6" fill="rgb(225,33,45)" fill-opacity="0.667"/>
<circle cx="780.7" cy="1102.7" r="5.6" fill="rgb(225,33,45)" fill-opacity="0.667"/>
<circle cx="772.7" cy="1109.9" r="5.6" fill="rgb(225,33,45)" fill-opacity="0.667"/>
<circle cx="778.2" cy="1113.3" r="5.6" fill="rgb(225,33,45)" fill-opacity="0.667"/>
<circle cx="767.2" cy="1117.6" r="5.6" fill="rgb(225,33,45)" fill-opacity="0.667"/>
<circle cx="765.0" cy="1123.5" r="5.6" fill="rgb(225,33,45)" fill-opacity="0.667"/>
<circle cx="768.0" cy="1121.8" r="5.6" fill="rgb(225,33,45)" fill-opacity="0.667"/>
<circle cx="773.1" cy="1130.3" r="5.6" fill="rgb(225,33,45)" fill-opacity="0.667"/>
<circle cx="765.5" cy="1133.7" r="5.6" fill="rgb(225,33,45)" fill-opacity="0.667"/>
<circle cx="780.3" cy="1137.5" r="5.6" fill="rgb(225,33,45)" fill-opacity="0.667"/>
<circle cx="769.7" cy="1130.3" r="5.6" fill="rgb(225,33,45)" fill-opacity="0.667"/>
<circle cx="764.1" cy="1123.9" r="5.6" fill="rgb(225,33,45)" fill-opacity="0.667"/>
<circle cx="768.0" cy="1121.6" r="5.6" fill="rgb(225,33,45)" fill-opacity="0.667"/>
<circle cx="773.4" cy="1130.1" r="5.6" fill="rgb(225,33,45)" fill-opacity="0.667"/>
<circle cx="764.1" cy="1133.2" r="5.6" fill="rgb(225,33,45)" fill-opacity="0.667"/>
<circle cx="780.4" cy="1137.9" r="5.6" fill="rgb(225,33,45)" fill-opacity="0.667"/>
<circle cx="769.6" cy="1143.3" r="5.6" fill="rgb(225,33,45)" fill-opacity="0.667"/>
<circle cx="771.1" cy="1146.4" r="5.6" fill="rgb(225,33,45)" fill-opacity="0.667"/>
<circle cx="767.2" cy="1156.6" r="5.6" fill="rgb(225,33,45)" fill-opacity="0.667"/>
<circle cx="771.1" cy="1155.0" r="5.6" fill="rgb(225,33,45)" fill-opacity="0.667"/>
<circle cx="770.3" cy="1168.2" r="5.6" fill="rgb(225,33,45)" fill-opacity="0.667"/>
<circle cx="782.0" cy="1173.7" r="5.6" fill="rgb(225,33,45)" fill-opacity="0.667"/>
<circle cx="764.9" cy="1176.0" r="5.6" fill="rgb(225,33,45)" fill-opacity="0.667"/>
<circle cx="778.9" cy="1175.2" r="5.6" fill="rgb(225,33,45)" fill-opacity="0.667"/>
<circle cx="770.3" cy="1177.6" r="5.6" fill="rgb(225,33,45)" fill-opacity="0.667"/>
<circle cx="781.2" cy="1183.0" r="5.6" fill="rgb(225,33,45)" fill-opacity="0.667"/>
<circle cx="765.7" cy="1190.0" r="5.6" fill="rgb(225,33,45)" fill-opacity="0.667"/>
<circle cx="771.1" cy="1192.3" r="5.6" fill="rgb(225,33,45)" fill-opacity="0.667"/>
<circle cx="778.1" cy="1190.0" r="5.6" fill="rgb(225,33,45)" fill-opacity="0.667"/>
<circle cx="780.4" cy="1195.8" r="5.6" fill="rgb(225,33,45)" fill-opacity="0.667"/>
<circle cx="761.0" cy="1202.4" r="5.6" fill="rgb(225,33,45)" fill-opacity="0.667"/>
<circle cx="767.2" cy="1204.8" r="5.6" fill="rgb(225,33,45)" fill-opacity="0.667"/>
<circle cx="776.6" cy="1202.4" r="5.6" fill="rgb(225,33,45)" fill-opacity="0.667"/>
<circle cx="779.7" cy="1205.9" r="5.6" fill="rgb(225,33,45)" fill-opacity="0.667"/>
<circle cx="761.0" cy="1214.9" r="5.6" fill="rgb(225,33,45)" fill-opacity="0.667"/>
<circle cx="770.3" cy="1214.9" r="5.6" fill="rgb(225,33,45)" fill-opacity="0.667"/>
<circle cx="765.7" cy="1211.8" r="5.6" fill="rgb(225,33,45)" fill-opacity="0.667"/>
<circle cx="773.4" cy="1186.9" r="5.6" fill="rgb(225,33,45)" fill-opacity="0.667"/>
<circle cx="773.4" cy="1198.6" r="5.6" fill="rgb(225,33,45)" fill-opacity="0.667"/>
<circle cx="775.0" cy="1133.2" r="5.6" fill="rgb(225,33,45)" fill-opacity="0.667"/>
<circle cx="768.0" cy="1165.0" r="5.6" fill="rgb(225,33,45)" fill-opacity="0.667"/>
<circle cx="773.0" cy="1172.0" r="5.6" fill="rgb(225,33,45)" fill-opacity="0.667"/>
<circle cx="766.0" cy="1180.0" r="5.6" fill="rgb(225,33,45)" fill-opacity="0.667"/>
<circle cx="775.0" cy="1185.0" r="5.6" fill="rgb(225,33,45)" fill-opacity="0.667"/>
<circle cx="770.0" cy="1195.0" r="5.6" fill="rgb(225,33,45)" fill-opacity="0.667"/>
<circle cx="765.0" cy="1198.0" r="5.6" fill="rgb(225,33,45)" fill-opacity="0.667"/>
<circle cx="776.0" cy="1165.0" r="5.6" fill="rgb(225,33,45)" fill-opacity="0.667"/>
<circle cx="769.0" cy="1150.0" r="5.6" fill="rgb(225,33,45)" fill-opacity="0.667"/>
<circle cx="764.0" cy="1141.0" r="5.6" fill="rgb(225,33,45)" fill-opacity="0.667"/>
<circle cx="774.0" cy="1145.0" r="5.6" fill="rgb(225,33,45)" fill-opacity="0.667"/>
<circle cx="770.0" cy="1108.0" r="5.6" fill="rgb(225,33,45)" fill-opacity="0.667"/>
<circle cx="767.0" cy="1100.0" r="5.6" fill="rgb(225,33,45)" fill-opacity="0.667"/>
<rect x="661" y="1138.8" width="61.200000000000045" height="6.6" fill="#000"/>
<rect x="741.4" y="1149.5" width="61.30000000000007" height="6.6" fill="#000"/>
<line x1="857.5999999999999" y1="840.5" x2="862.8" y2="840.5" stroke="#000" stroke-width="2.7"/>
<line x1="853.3" y1="915.2" x2="862.8" y2="915.2" stroke="#000" stroke-width="2.7"/>
<line x1="857.5999999999999" y1="989.9" x2="862.8" y2="989.9" stroke="#000" stroke-width="2.7"/>
<line x1="853.3" y1="1064.6" x2="862.8" y2="1064.6" stroke="#000" stroke-width="2.7"/>
<line x1="857.5999999999999" y1="1139.3" x2="862.8" y2="1139.3" stroke="#000" stroke-width="2.7"/>
<line x1="853.3" y1="1214.0" x2="862.8" y2="1214.0" stroke="#000" stroke-width="2.7"/>
<line x1="857.5999999999999" y1="1288.7" x2="862.8" y2="1288.7" stroke="#000" stroke-width="2.7"/>
<text transform="translate(841.4 916.7) rotate(-90) scale(1 1.035)" font-size="27" font-weight="normal" text-anchor="middle" fill="#000" stroke="#000" stroke-width="0.35">4</text>
<text transform="translate(841.4 1067.2) rotate(-90) scale(1 1.035)" font-size="27" font-weight="normal" text-anchor="middle" fill="#000" stroke="#000" stroke-width="0.35">2</text>
<text transform="translate(841.4 1217.7) rotate(-90) scale(1 1.035)" font-size="27" font-weight="normal" text-anchor="middle" fill="#000" stroke="#000" stroke-width="0.35">0</text>
<line x1="902.5" y1="1289.4" x2="902.5" y2="1298.9" stroke="#000" stroke-width="2.7"/>
<line x1="983.3" y1="1289.4" x2="983.3" y2="1298.9" stroke="#000" stroke-width="2.7"/>
<rect x="862.8" y="840.7" width="160.70000000000005" height="448.70000000000005" fill="none" stroke="#000" stroke-width="2.7"/>
<text transform="translate(902.5 1333.5) scale(1 1.035)" font-size="31.9" font-weight="normal" text-anchor="middle" fill="#000" stroke="#000" stroke-width="0.35">NT</text>
<text transform="translate(983.3 1333.5) scale(1 1.035)" font-size="31.9" font-weight="normal" text-anchor="middle" fill="#000" stroke="#000" stroke-width="0.35">PDS</text>
<text transform="translate(941.5 824.3) scale(1 1.035)" font-size="32.3" font-weight="bold" text-anchor="middle" fill="#000">siFANCJ</text>
<text transform="translate(982.3 967.9) scale(1 1.035)" font-size="23.4" font-weight="normal" text-anchor="middle" fill="#000" stroke="#000" stroke-width="0.35">NS</text>
<rect x="875.3" y="1079.4" width="53.90000000000009" height="125.59999999999991" fill="rgb(136,136,136)" stroke="rgb(40,40,40)" stroke-width="2.0"/>
<rect x="956.5" y="1087.6" width="53.60000000000002" height="114.90000000000009" fill="rgb(136,136,136)" stroke="rgb(40,40,40)" stroke-width="2.0"/>
<circle cx="902.7" cy="986.8" r="5.2" fill="#fff" stroke="rgb(100,102,101)" stroke-width="2.6"/>
<circle cx="900.4" cy="1001.3" r="5.2" fill="#fff" stroke="rgb(100,102,101)" stroke-width="2.6"/>
<circle cx="902.7" cy="1013.7" r="5.2" fill="#fff" stroke="rgb(100,102,101)" stroke-width="2.6"/>
<circle cx="912.8" cy="1012.8" r="5.2" fill="#fff" stroke="rgb(100,102,101)" stroke-width="2.6"/>
<circle cx="918.6" cy="1033.9" r="5.2" fill="#fff" stroke="rgb(100,102,101)" stroke-width="2.6"/>
<circle cx="900.8" cy="1038.1" r="5.2" fill="#fff" stroke="rgb(100,102,101)" stroke-width="2.6"/>
<circle cx="901.3" cy="1047.3" r="5.2" fill="#fff" stroke="rgb(100,102,101)" stroke-width="2.6"/>
<circle cx="895.6" cy="1054.2" r="5.2" fill="#fff" stroke="rgb(100,102,101)" stroke-width="2.6"/>
<circle cx="902.7" cy="1068.4" r="5.2" fill="#fff" stroke="rgb(100,102,101)" stroke-width="2.6"/>
<circle cx="898.1" cy="1077.6" r="5.2" fill="#fff" stroke="rgb(100,102,101)" stroke-width="2.6"/>
<circle cx="910.5" cy="1081.3" r="5.2" fill="#fff" stroke="rgb(100,102,101)" stroke-width="2.6"/>
<circle cx="898.5" cy="1086.4" r="5.2" fill="#fff" stroke="rgb(100,102,101)" stroke-width="2.6"/>
<circle cx="907.7" cy="1092.4" r="5.2" fill="#fff" stroke="rgb(100,102,101)" stroke-width="2.6"/>
<circle cx="897.6" cy="1097.4" r="5.2" fill="#fff" stroke="rgb(100,102,101)" stroke-width="2.6"/>
<circle cx="911.4" cy="1078.6" r="5.2" fill="#fff" stroke="rgb(100,102,101)" stroke-width="2.6"/>
<circle cx="906.8" cy="1093.3" r="5.2" fill="#fff" stroke="rgb(100,102,101)" stroke-width="2.6"/>
<circle cx="897.7" cy="1098.6" r="5.2" fill="#fff" stroke="rgb(100,102,101)" stroke-width="2.6"/>
<circle cx="905.3" cy="1107.2" r="5.2" fill="#fff" stroke="rgb(100,102,101)" stroke-width="2.6"/>
<circle cx="899.6" cy="1117.7" r="5.2" fill="#fff" stroke="rgb(100,102,101)" stroke-width="2.6"/>
<circle cx="907.7" cy="1121.5" r="5.2" fill="#fff" stroke="rgb(100,102,101)" stroke-width="2.6"/>
<circle cx="899.1" cy="1128.2" r="5.2" fill="#fff" stroke="rgb(100,102,101)" stroke-width="2.6"/>
<circle cx="906.3" cy="1131.1" r="5.2" fill="#fff" stroke="rgb(100,102,101)" stroke-width="2.6"/>
<circle cx="900.6" cy="1136.8" r="5.2" fill="#fff" stroke="rgb(100,102,101)" stroke-width="2.6"/>
<circle cx="893.4" cy="1148.7" r="5.2" fill="#fff" stroke="rgb(100,102,101)" stroke-width="2.6"/>
<circle cx="904.9" cy="1148.7" r="5.2" fill="#fff" stroke="rgb(100,102,101)" stroke-width="2.6"/>
<circle cx="902.0" cy="1160.2" r="5.2" fill="#fff" stroke="rgb(100,102,101)" stroke-width="2.6"/>
<circle cx="909.2" cy="1164.5" r="5.2" fill="#fff" stroke="rgb(100,102,101)" stroke-width="2.6"/>
<circle cx="890.5" cy="1168.8" r="5.2" fill="#fff" stroke="rgb(100,102,101)" stroke-width="2.6"/>
<circle cx="902.5" cy="1170.2" r="5.2" fill="#fff" stroke="rgb(100,102,101)" stroke-width="2.6"/>
<circle cx="894.8" cy="1176.0" r="5.2" fill="#fff" stroke="rgb(100,102,101)" stroke-width="2.6"/>
<circle cx="906.3" cy="1177.9" r="5.2" fill="#fff" stroke="rgb(100,102,101)" stroke-width="2.6"/>
<circle cx="912.5" cy="1180.3" r="5.2" fill="#fff" stroke="rgb(100,102,101)" stroke-width="2.6"/>
<circle cx="898.7" cy="1184.6" r="5.2" fill="#fff" stroke="rgb(100,102,101)" stroke-width="2.6"/>
<circle cx="911.1" cy="1187.4" r="5.2" fill="#fff" stroke="rgb(100,102,101)" stroke-width="2.6"/>
<circle cx="903.4" cy="1193.2" r="5.2" fill="#fff" stroke="rgb(100,102,101)" stroke-width="2.6"/>
<circle cx="910.1" cy="1198.4" r="5.2" fill="#fff" stroke="rgb(100,102,101)" stroke-width="2.6"/>
<circle cx="894.4" cy="1202.7" r="5.2" fill="#fff" stroke="rgb(100,102,101)" stroke-width="2.6"/>
<circle cx="902.5" cy="1207.5" r="5.2" fill="#fff" stroke="rgb(100,102,101)" stroke-width="2.6"/>
<circle cx="912.0" cy="1209.4" r="5.2" fill="#fff" stroke="rgb(100,102,101)" stroke-width="2.6"/>
<circle cx="890.5" cy="1214.2" r="5.2" fill="#fff" stroke="rgb(100,102,101)" stroke-width="2.6"/>
<circle cx="903.4" cy="1215.1" r="5.2" fill="#fff" stroke="rgb(100,102,101)" stroke-width="2.6"/>
<circle cx="909.2" cy="1156.9" r="5.2" fill="#fff" stroke="rgb(100,102,101)" stroke-width="2.6"/>
<circle cx="902.0" cy="1100.0" r="5.2" fill="#fff" stroke="rgb(100,102,101)" stroke-width="2.6"/>
<circle cx="904.0" cy="1112.0" r="5.2" fill="#fff" stroke="rgb(100,102,101)" stroke-width="2.6"/>
<circle cx="901.0" cy="1125.0" r="5.2" fill="#fff" stroke="rgb(100,102,101)" stroke-width="2.6"/>
<circle cx="905.0" cy="1140.0" r="5.2" fill="#fff" stroke="rgb(100,102,101)" stroke-width="2.6"/>
<circle cx="898.0" cy="1145.0" r="5.2" fill="#fff" stroke="rgb(100,102,101)" stroke-width="2.6"/>
<circle cx="907.0" cy="1152.0" r="5.2" fill="#fff" stroke="rgb(100,102,101)" stroke-width="2.6"/>
<circle cx="897.0" cy="1160.0" r="5.2" fill="#fff" stroke="rgb(100,102,101)" stroke-width="2.6"/>
<circle cx="905.0" cy="1172.0" r="5.2" fill="#fff" stroke="rgb(100,102,101)" stroke-width="2.6"/>
<circle cx="900.0" cy="1180.0" r="5.2" fill="#fff" stroke="rgb(100,102,101)" stroke-width="2.6"/>
<circle cx="908.0" cy="1190.0" r="5.2" fill="#fff" stroke="rgb(100,102,101)" stroke-width="2.6"/>
<circle cx="896.0" cy="1195.0" r="5.2" fill="#fff" stroke="rgb(100,102,101)" stroke-width="2.6"/>
<circle cx="904.0" cy="1200.0" r="5.2" fill="#fff" stroke="rgb(100,102,101)" stroke-width="2.6"/>
<circle cx="898.0" cy="1210.0" r="5.2" fill="#fff" stroke="rgb(100,102,101)" stroke-width="2.6"/>
<circle cx="910.0" cy="1215.0" r="5.2" fill="#fff" stroke="rgb(100,102,101)" stroke-width="2.6"/>
<circle cx="906.0" cy="1062.0" r="5.2" fill="#fff" stroke="rgb(100,102,101)" stroke-width="2.6"/>
<circle cx="899.0" cy="1072.0" r="5.2" fill="#fff" stroke="rgb(100,102,101)" stroke-width="2.6"/>
<circle cx="981.8" cy="1000.6" r="5.2" fill="#fff" stroke="rgb(232,62,72)" stroke-width="2.6"/>
<circle cx="985.2" cy="1004.8" r="5.2" fill="#fff" stroke="rgb(232,62,72)" stroke-width="2.6"/>
<circle cx="978.4" cy="1028.2" r="5.2" fill="#fff" stroke="rgb(232,62,72)" stroke-width="2.6"/>
<circle cx="981.0" cy="1050.7" r="5.2" fill="#fff" stroke="rgb(232,62,72)" stroke-width="2.6"/>
<circle cx="983.9" cy="1054.1" r="5.2" fill="#fff" stroke="rgb(232,62,72)" stroke-width="2.6"/>
<circle cx="977.6" cy="1057.9" r="5.2" fill="#fff" stroke="rgb(232,62,72)" stroke-width="2.6"/>
<circle cx="980.5" cy="1066.4" r="5.2" fill="#fff" stroke="rgb(232,62,72)" stroke-width="2.6"/>
<circle cx="973.3" cy="1071.5" r="5.2" fill="#fff" stroke="rgb(232,62,72)" stroke-width="2.6"/>
<circle cx="972.5" cy="1085.9" r="5.2" fill="#fff" stroke="rgb(232,62,72)" stroke-width="2.6"/>
<circle cx="976.3" cy="1088.4" r="5.2" fill="#fff" stroke="rgb(232,62,72)" stroke-width="2.6"/>
<circle cx="983.5" cy="1087.6" r="5.2" fill="#fff" stroke="rgb(232,62,72)" stroke-width="2.6"/>
<circle cx="980.5" cy="1096.9" r="5.2" fill="#fff" stroke="rgb(232,62,72)" stroke-width="2.6"/>
<circle cx="984.8" cy="1107.1" r="5.2" fill="#fff" stroke="rgb(232,62,72)" stroke-width="2.6"/>
<circle cx="978.0" cy="1107.9" r="5.2" fill="#fff" stroke="rgb(232,62,72)" stroke-width="2.6"/>
<circle cx="980.5" cy="1100.9" r="5.2" fill="#fff" stroke="rgb(232,62,72)" stroke-width="2.6"/>
<circle cx="984.9" cy="1108.0" r="5.2" fill="#fff" stroke="rgb(232,62,72)" stroke-width="2.6"/>
<circle cx="975.6" cy="1117.7" r="5.2" fill="#fff" stroke="rgb(232,62,72)" stroke-width="2.6"/>
<circle cx="984.5" cy="1119.4" r="5.2" fill="#fff" stroke="rgb(232,62,72)" stroke-width="2.6"/>
<circle cx="971.7" cy="1125.6" r="5.2" fill="#fff" stroke="rgb(232,62,72)" stroke-width="2.6"/>
<circle cx="987.1" cy="1126.5" r="5.2" fill="#fff" stroke="rgb(232,62,72)" stroke-width="2.6"/>
<circle cx="982.3" cy="1131.4" r="5.2" fill="#fff" stroke="rgb(232,62,72)" stroke-width="2.6"/>
<circle cx="976.1" cy="1140.7" r="5.2" fill="#fff" stroke="rgb(232,62,72)" stroke-width="2.6"/>
<circle cx="977.0" cy="1151.3" r="5.2" fill="#fff" stroke="rgb(232,62,72)" stroke-width="2.6"/>
<circle cx="980.9" cy="1161.9" r="5.2" fill="#fff" stroke="rgb(232,62,72)" stroke-width="2.6"/>
<circle cx="981.4" cy="1166.7" r="5.2" fill="#fff" stroke="rgb(232,62,72)" stroke-width="2.6"/>
<circle cx="993.3" cy="1177.8" r="5.2" fill="#fff" stroke="rgb(232,62,72)" stroke-width="2.6"/>
<circle cx="980.1" cy="1179.5" r="5.2" fill="#fff" stroke="rgb(232,62,72)" stroke-width="2.6"/>
<circle cx="983.6" cy="1187.1" r="5.2" fill="#fff" stroke="rgb(232,62,72)" stroke-width="2.6"/>
<circle cx="975.6" cy="1192.8" r="5.2" fill="#fff" stroke="rgb(232,62,72)" stroke-width="2.6"/>
<circle cx="990.7" cy="1199.9" r="5.2" fill="#fff" stroke="rgb(232,62,72)" stroke-width="2.6"/>
<circle cx="982.7" cy="1206.9" r="5.2" fill="#fff" stroke="rgb(232,62,72)" stroke-width="2.6"/>
<circle cx="992.4" cy="1210.5" r="5.2" fill="#fff" stroke="rgb(232,62,72)" stroke-width="2.6"/>
<circle cx="986.2" cy="1214.9" r="5.2" fill="#fff" stroke="rgb(232,62,72)" stroke-width="2.6"/>
<circle cx="978.3" cy="1212.3" r="5.2" fill="#fff" stroke="rgb(232,62,72)" stroke-width="2.6"/>
<circle cx="990.7" cy="1173.4" r="5.2" fill="#fff" stroke="rgb(232,62,72)" stroke-width="2.6"/>
<circle cx="976.5" cy="1188.4" r="5.2" fill="#fff" stroke="rgb(232,62,72)" stroke-width="2.6"/>
<circle cx="982.0" cy="1112.0" r="5.2" fill="#fff" stroke="rgb(232,62,72)" stroke-width="2.6"/>
<circle cx="978.0" cy="1122.0" r="5.2" fill="#fff" stroke="rgb(232,62,72)" stroke-width="2.6"/>
<circle cx="986.0" cy="1135.0" r="5.2" fill="#fff" stroke="rgb(232,62,72)" stroke-width="2.6"/>
<circle cx="979.0" cy="1145.0" r="5.2" fill="#fff" stroke="rgb(232,62,72)" stroke-width="2.6"/>
<circle cx="984.0" cy="1155.0" r="5.2" fill="#fff" stroke="rgb(232,62,72)" stroke-width="2.6"/>
<circle cx="977.0" cy="1170.0" r="5.2" fill="#fff" stroke="rgb(232,62,72)" stroke-width="2.6"/>
<circle cx="988.0" cy="1183.0" r="5.2" fill="#fff" stroke="rgb(232,62,72)" stroke-width="2.6"/>
<circle cx="979.0" cy="1200.0" r="5.2" fill="#fff" stroke="rgb(232,62,72)" stroke-width="2.6"/>
<circle cx="985.0" cy="1195.0" r="5.2" fill="#fff" stroke="rgb(232,62,72)" stroke-width="2.6"/>
<circle cx="975.0" cy="1205.0" r="5.2" fill="#fff" stroke="rgb(232,62,72)" stroke-width="2.6"/>
<circle cx="983.0" cy="1078.0" r="5.2" fill="#fff" stroke="rgb(232,62,72)" stroke-width="2.6"/>
<circle cx="979.0" cy="1093.0" r="5.2" fill="#fff" stroke="rgb(232,62,72)" stroke-width="2.6"/>
<rect x="871.9" y="1139.0" width="61.10000000000002" height="6.6" fill="#000"/>
<rect x="952.4" y="1142.0" width="61.39999999999998" height="6.6" fill="#000"/>
<line x1="1161.0" y1="124.66000000000003" x2="1170.5" y2="124.66000000000003" stroke="#000" stroke-width="2.7"/>
<line x1="1165.3" y1="181.15000000000003" x2="1170.5" y2="181.15000000000003" stroke="#000" stroke-width="2.7"/>
<line x1="1161.0" y1="237.64000000000004" x2="1170.5" y2="237.64000000000004" stroke="#000" stroke-width="2.7"/>
<line x1="1165.3" y1="294.13" x2="1170.5" y2="294.13" stroke="#000" stroke-width="2.7"/>
<line x1="1161.0" y1="350.62" x2="1170.5" y2="350.62" stroke="#000" stroke-width="2.7"/>
<line x1="1165.3" y1="407.11" x2="1170.5" y2="407.11" stroke="#000" stroke-width="2.7"/>
<line x1="1161.0" y1="463.6" x2="1170.5" y2="463.6" stroke="#000" stroke-width="2.7"/>
<line x1="1165.3" y1="520.09" x2="1170.5" y2="520.09" stroke="#000" stroke-width="2.7"/>
<line x1="1161.0" y1="576.58" x2="1170.5" y2="576.58" stroke="#000" stroke-width="2.7"/>
<text transform="translate(1148.7 124.66000000000003) rotate(-90) scale(1 1.035)" font-size="27" font-weight="normal" text-anchor="middle" fill="#000" stroke="#000" stroke-width="0.35">300</text>
<text transform="translate(1148.7 237.64000000000004) rotate(-90) scale(1 1.035)" font-size="27" font-weight="normal" text-anchor="middle" fill="#000" stroke="#000" stroke-width="0.35">200</text>
<text transform="translate(1148.7 350.62) rotate(-90) scale(1 1.035)" font-size="27" font-weight="normal" text-anchor="middle" fill="#000" stroke="#000" stroke-width="0.35">100</text>
<text transform="translate(1148.7 463.6) rotate(-90) scale(1 1.035)" font-size="27" font-weight="normal" text-anchor="middle" fill="#000" stroke="#000" stroke-width="0.35">0</text>
<text transform="translate(1148.7 576.58) rotate(-90) scale(1 1.035)" font-size="27" font-weight="normal" text-anchor="middle" fill="#000" stroke="#000" stroke-width="0.35">-100</text>
<line x1="1211.1" y1="576.8" x2="1211.1" y2="586.3" stroke="#000" stroke-width="2.7"/>
<line x1="1291.2" y1="576.8" x2="1291.2" y2="586.3" stroke="#000" stroke-width="2.7"/>
<rect x="1170.5" y="124.7" width="161.29999999999995" height="452.09999999999997" fill="none" stroke="#000" stroke-width="2.7"/>
<text transform="translate(1247.8 109.5) scale(1 1.035)" font-size="32.2" font-weight="bold" text-anchor="middle" fill="#000">PDS/NT</text>
<text transform="translate(1106 350.2) rotate(-90) scale(1 1.035)" font-size="32.8" font-weight="normal" text-anchor="middle" fill="#000" stroke="#000" stroke-width="0.35">Percent Change (%)</text>
<text transform="translate(1211.5 158.4) scale(1 1.035)" font-size="23.2" font-weight="normal" text-anchor="middle" fill="#000" stroke="#000" stroke-width="0.35">172%</text>
<text transform="translate(1290.7 430) scale(1 1.035)" font-size="23.2" font-weight="normal" text-anchor="middle" fill="#000" stroke="#000" stroke-width="0.35">-8.8%</text>
<rect x="1199.5" y="182" width="22.700000000000045" height="172.7" fill="#fff" stroke="#000" stroke-width="2.7"/>
<rect x="1196.2" y="265.3" width="29.799999999999955" height="6.6" fill="#000"/>
<rect x="1280.6" y="452.3" width="22.40000000000009" height="43.099999999999966" fill="rgb(136,136,136)" stroke="#000" stroke-width="2.7"/>
<rect x="1277.3" y="470.59999999999997" width="28.700000000000045" height="6.6" fill="#000"/>
<line x1="1172.1" y1="464.05" x2="1333" y2="464.05" stroke="rgb(228,45,55)" stroke-width="3.6" stroke-dasharray="12.6 5.9"/>
<text transform="translate(1245.5 618) rotate(-45) scale(1 1.035)" font-size="32.3" font-weight="normal" text-anchor="end" fill="#000" stroke="#000" stroke-width="0.35">siCTRL</text>
<text transform="translate(1332 612) rotate(-45) scale(1 1.035)" font-size="32.3" font-weight="normal" text-anchor="end" fill="#000" stroke="#000" stroke-width="0.35">siFANCJ</text>
<line x1="1166.0" y1="840.3" x2="1171.2" y2="840.3" stroke="#000" stroke-width="2.7"/>
<line x1="1161.7" y1="885.5" x2="1171.2" y2="885.5" stroke="#000" stroke-width="2.7"/>
<line x1="1166.0" y1="930.6999999999999" x2="1171.2" y2="930.6999999999999" stroke="#000" stroke-width="2.7"/>
<line x1="1161.7" y1="975.9" x2="1171.2" y2="975.9" stroke="#000" stroke-width="2.7"/>
<line x1="1166.0" y1="1021.0999999999999" x2="1171.2" y2="1021.0999999999999" stroke="#000" stroke-width="2.7"/>
<line x1="1161.7" y1="1066.3" x2="1171.2" y2="1066.3" stroke="#000" stroke-width="2.7"/>
<line x1="1166.0" y1="1111.5" x2="1171.2" y2="1111.5" stroke="#000" stroke-width="2.7"/>
<line x1="1161.7" y1="1156.7" x2="1171.2" y2="1156.7" stroke="#000" stroke-width="2.7"/>
<line x1="1166.0" y1="1201.8999999999999" x2="1171.2" y2="1201.8999999999999" stroke="#000" stroke-width="2.7"/>
<line x1="1161.7" y1="1247.1" x2="1171.2" y2="1247.1" stroke="#000" stroke-width="2.7"/>
<line x1="1166.0" y1="1292.3" x2="1171.2" y2="1292.3" stroke="#000" stroke-width="2.7"/>
<text transform="translate(1148.7 885.5) rotate(-90) scale(1 1.035)" font-size="27" font-weight="normal" text-anchor="middle" fill="#000" stroke="#000" stroke-width="0.35">40</text>
<text transform="translate(1148.7 975.9) rotate(-90) scale(1 1.035)" font-size="27" font-weight="normal" text-anchor="middle" fill="#000" stroke="#000" stroke-width="0.35">20</text>
<text transform="translate(1148.7 1066.3) rotate(-90) scale(1 1.035)" font-size="27" font-weight="normal" text-anchor="middle" fill="#000" stroke="#000" stroke-width="0.35">0</text>
<text transform="translate(1148.7 1156.7) rotate(-90) scale(1 1.035)" font-size="27" font-weight="normal" text-anchor="middle" fill="#000" stroke="#000" stroke-width="0.35">-20</text>
<text transform="translate(1148.7 1247.1) rotate(-90) scale(1 1.035)" font-size="27" font-weight="normal" text-anchor="middle" fill="#000" stroke="#000" stroke-width="0.35">-40</text>
<line x1="1210.8" y1="1292.3" x2="1210.8" y2="1301.8" stroke="#000" stroke-width="2.7"/>
<line x1="1292" y1="1292.3" x2="1292" y2="1301.8" stroke="#000" stroke-width="2.7"/>
<rect x="1171.2" y="840.3" width="160.29999999999995" height="452.0" fill="none" stroke="#000" stroke-width="2.7"/>
<text transform="translate(1251.6 824.7) scale(1 1.035)" font-size="32.2" font-weight="bold" text-anchor="middle" fill="#000">PDS/NT</text>
<text transform="translate(1106 1066) rotate(-90) scale(1 1.035)" font-size="32.1" font-weight="normal" text-anchor="middle" fill="#000" stroke="#000" stroke-width="0.35">Percent Change (%)</text>
<text transform="translate(1211.5 1047.5) scale(1 1.035)" font-size="23.2" font-weight="normal" text-anchor="middle" fill="#000" stroke="#000" stroke-width="0.35">-14.0%</text>
<text transform="translate(1290.7 994.8) scale(1 1.035)" font-size="23.2" font-weight="normal" text-anchor="middle" fill="#000" stroke="#000" stroke-width="0.35">-4.3%</text>
<rect x="1199.4" y="1071" width="23.799999999999955" height="117.90000000000009" fill="#fff" stroke="#000" stroke-width="2.7"/>
<rect x="1196.2" y="1126.7" width="29.899999999999864" height="6.6" fill="#000"/>
<rect x="1280.2" y="1017" width="23.399999999999864" height="138.0999999999999" fill="rgb(136,136,136)" stroke="#000" stroke-width="2.7"/>
<rect x="1277" y="1083.0" width="29.59999999999991" height="6.6" fill="#000"/>
<line x1="1172.1" y1="1066.9" x2="1333" y2="1066.9" stroke="rgb(228,45,55)" stroke-width="3.7" stroke-dasharray="12.6 5.9"/>
<text transform="translate(1254.5 1333.5) rotate(-45) scale(1 1.035)" font-size="32.3" font-weight="normal" text-anchor="end" fill="#000" stroke="#000" stroke-width="0.35">siCTRL</text>
<text transform="translate(1341.5 1328) rotate(-45) scale(1 1.035)" font-size="32.3" font-weight="normal" text-anchor="end" fill="#000" stroke="#000" stroke-width="0.35">siFANCJ</text>
</svg></body></html>
